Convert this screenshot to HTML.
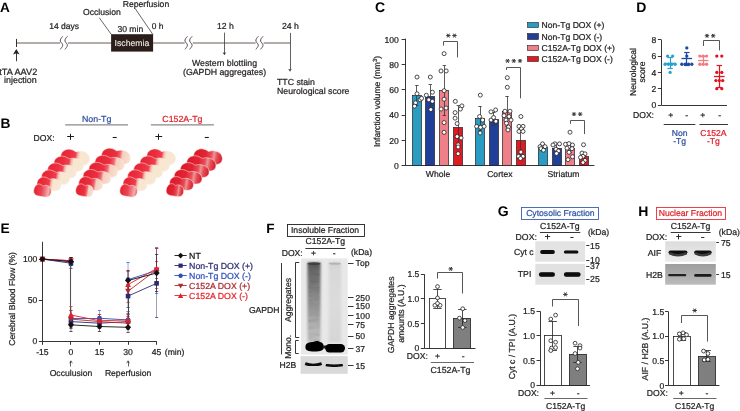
<!DOCTYPE html>
<html><head><meta charset="utf-8"><style>
html,body{margin:0;padding:0;background:#fff;overflow:hidden;}
svg{display:block;will-change:transform;text-rendering:geometricPrecision;font-family:"Liberation Sans",sans-serif;font-size:8.6px;fill:#231f20;}
</style></head><body>
<svg width="740" height="411" viewBox="0 0 740 411">
<rect width="740" height="411" fill="#fff"/>
<text x="0.1" y="11.6" font-size="13.6" fill="#000" font-weight="bold">A</text>
<line x1="16.6" y1="43.0" x2="290.4" y2="43.0" stroke="#9a918d" stroke-width="1.5"/>
<line x1="16.5" y1="38.9" x2="16.5" y2="47.0" stroke="#3a3030" stroke-width="1.0"/>
<line x1="16.5" y1="61.2" x2="16.5" y2="52.5" stroke="#2a2020" stroke-width="0.9"/>
<path d="M16.3,48.9 L19.6,54.6 L16.3,53.3 L13.0,54.6 Z" stroke="none" stroke-width="0.8" fill="#2a2020"/>
<rect x="60.0" y="41.8" width="8" height="2.4" fill="#fff"/>
<path d="M62.8,36.3 C61.4,37.8 59.9,39.4 60.3,41.1 C60.7,42.7 62.9,43.6 62.7,45.4 C62.5,47.0 61.0,48.1 60.3,49.4" stroke="#3a3230" stroke-width="0.85" fill="none"/>
<path d="M67.5,36.3 C66.10000000000001,37.8 64.60000000000001,39.4 65.0,41.1 C65.4,42.7 67.60000000000001,43.6 67.4,45.4 C67.2,47.0 65.7,48.1 65.0,49.4" stroke="#3a3230" stroke-width="0.85" fill="none"/>
<rect x="184.7" y="41.8" width="8" height="2.4" fill="#fff"/>
<path d="M187.5,36.3 C186.1,37.8 184.6,39.4 185.0,41.1 C185.39999999999998,42.7 187.6,43.6 187.39999999999998,45.4 C187.2,47.0 185.7,48.1 185.0,49.4" stroke="#3a3230" stroke-width="0.85" fill="none"/>
<path d="M192.2,36.3 C190.79999999999998,37.8 189.29999999999998,39.4 189.7,41.1 C190.09999999999997,42.7 192.29999999999998,43.6 192.09999999999997,45.4 C191.89999999999998,47.0 190.39999999999998,48.1 189.7,49.4" stroke="#3a3230" stroke-width="0.85" fill="none"/>
<rect x="255.60000000000002" y="41.8" width="8" height="2.4" fill="#fff"/>
<path d="M258.40000000000003,36.3 C257.0,37.8 255.50000000000003,39.4 255.90000000000003,41.1 C256.3,42.7 258.5,43.6 258.3,45.4 C258.1,47.0 256.6,48.1 255.90000000000003,49.4" stroke="#3a3230" stroke-width="0.85" fill="none"/>
<path d="M263.1,36.3 C261.7,37.8 260.2,39.4 260.6,41.1 C261.0,42.7 263.2,43.6 263.0,45.4 C262.8,47.0 261.3,48.1 260.6,49.4" stroke="#3a3230" stroke-width="0.85" fill="none"/>
<text x="49.2" y="29.0" font-size="8.5" stroke="#231f20" stroke-width="0.22">14 days</text>
<rect x="111.1" y="34.2" width="42.0" height="17.4" fill="#2b1e1a"/>
<text x="132.0" y="45.6" font-size="8.7" text-anchor="middle" fill="#ece8e4" stroke="#ece8e4" stroke-width="0.12">Ischemia</text>
<text x="130.3" y="32.1" text-anchor="middle" stroke="#231f20" stroke-width="0.22">30 min</text>
<text x="151.8" y="28.5" font-size="8.4" stroke="#231f20" stroke-width="0.22">0 h</text>
<text x="83" y="15.2" font-size="8.65" stroke="#231f20" stroke-width="0.22">Occlusion</text>
<text x="122.7" y="6.6" font-size="8.65" stroke="#231f20" stroke-width="0.22">Reperfusion</text>
<line x1="99.3" y1="17.8" x2="111.4" y2="34.5" stroke="#3a3030" stroke-width="0.75"/>
<line x1="135.2" y1="8.6" x2="152.9" y2="34.5" stroke="#3a3030" stroke-width="0.75"/>
<text x="216.9" y="28.7" font-size="8.7" stroke="#231f20" stroke-width="0.22">12 h</text>
<line x1="224.5" y1="32.6" x2="224.5" y2="53" stroke="#4a4444" stroke-width="0.85"/>
<path d="M222.6,52.2 L224.4,55.2 L226.2,52.2 L224.4,52.9 Z" stroke="none" stroke-width="0.8" fill="#3a3434"/>
<text x="282.0" y="28.7" font-size="8.7" stroke="#231f20" stroke-width="0.22">24 h</text>
<line x1="290.5" y1="32.9" x2="290.5" y2="69.5" stroke="#4a4444" stroke-width="0.85"/>
<path d="M288.2,68.7 L290,71.8 L291.8,68.7 L290,69.4 Z" stroke="none" stroke-width="0.8" fill="#3a3434"/>
<text x="192" y="66.1" font-size="8.75" stroke="#231f20" stroke-width="0.22">Western blottiing</text>
<text x="183" y="75.1" font-size="8.75" stroke="#231f20" stroke-width="0.22">(GAPDH aggregates)</text>
<text x="277" y="85.2" font-size="8.75" stroke="#231f20" stroke-width="0.22">TTC stain</text>
<text x="277" y="94.2" font-size="8.75" stroke="#231f20" stroke-width="0.22">Neurological score</text>
<text x="-0.7" y="74.6" font-size="9.2" stroke="#231f20" stroke-width="0.22">tTA AAV2</text>
<text x="4.1" y="82.8" font-size="8.9" stroke="#231f20" stroke-width="0.22">injection</text>
<text x="0.6" y="127.8" font-size="13.8" fill="#000" font-weight="bold">B</text>
<text x="96.7" y="122.1" font-size="8.8" text-anchor="middle" fill="#2e4fa3" stroke="#2e4fa3" stroke-width="0.22">Non-Tg</text>
<line x1="65.2" y1="124.9" x2="128" y2="124.9" stroke="#8a8a8a" stroke-width="1.4"/>
<text x="182.4" y="122.1" font-size="8.8" text-anchor="middle" fill="#e0202a" stroke="#e0202a" stroke-width="0.22">C152A-Tg</text>
<line x1="150.9" y1="124.9" x2="213.9" y2="124.9" stroke="#8a8a8a" stroke-width="1.4"/>
<text x="33.6" y="140.9" stroke="#231f20" stroke-width="0.22">DOX:</text>
<line x1="67.14999999999999" y1="136.5" x2="73.95" y2="136.5" stroke="#1a1a1a" stroke-width="1.05"/>
<line x1="70.5" y1="133.8" x2="70.5" y2="139.8" stroke="#1a1a1a" stroke-width="1.05"/>
<line x1="112.7" y1="137.5" x2="116.7" y2="137.5" stroke="#1a1a1a" stroke-width="1.1"/>
<line x1="155.4" y1="136.5" x2="162.20000000000002" y2="136.5" stroke="#1a1a1a" stroke-width="1.05"/>
<line x1="158.5" y1="133.8" x2="158.5" y2="139.8" stroke="#1a1a1a" stroke-width="1.05"/>
<line x1="204.8" y1="137.5" x2="208.8" y2="137.5" stroke="#1a1a1a" stroke-width="1.1"/>
<defs>
<linearGradient id="gPale" x1="0" y1="0" x2="1" y2="0">
 <stop offset="0" stop-color="#e62434"/><stop offset="0.3" stop-color="#ea2e3e"/><stop offset="0.5" stop-color="#ee3e4c"/><stop offset="0.58" stop-color="#f4b8ac"/><stop offset="0.66" stop-color="#f8e6d0"/><stop offset="1" stop-color="#f6e8d2"/>
</linearGradient>
<linearGradient id="gPale0" x1="0" y1="0" x2="1" y2="0">
 <stop offset="0" stop-color="#e42230"/><stop offset="0.45" stop-color="#ea4452"/><stop offset="0.65" stop-color="#f07880"/><stop offset="0.85" stop-color="#f4b0b0"/><stop offset="1" stop-color="#e84850"/>
</linearGradient>
<linearGradient id="gMid" x1="0" y1="0" x2="1" y2="0">
 <stop offset="0" stop-color="#e4222f"/><stop offset="0.5" stop-color="#ea3040"/><stop offset="0.63" stop-color="#ef6470"/><stop offset="0.72" stop-color="#f6cfc0"/><stop offset="1" stop-color="#f8e2ce"/>
</linearGradient>
<linearGradient id="gRed" x1="0" y1="0" x2="1" y2="0">
 <stop offset="0" stop-color="#da1a2a"/><stop offset="0.4" stop-color="#e22432"/><stop offset="0.6" stop-color="#e64c58"/><stop offset="0.7" stop-color="#ee9494"/><stop offset="0.8" stop-color="#e65058"/><stop offset="1" stop-color="#d41a2a"/>
</linearGradient>
<radialGradient id="gHi" cx="0.5" cy="0.5" r="0.5"><stop offset="0" stop-color="#ff8890" stop-opacity="0.75"/><stop offset="1" stop-color="#ff8890" stop-opacity="0"/></radialGradient>
<filter id="bsoft" x="-20%" y="-20%" width="140%" height="140%"><feGaussianBlur stdDeviation="0.4"/></filter>
</defs>
<g filter="url(#bsoft)">
<g transform="rotate(9 75.20 157.20)">
<path d="M60.7,157.89999999999998 C60.7,153.0 65.05,150.2 68.82000000000001,150.2 C72.3,150.2 73.75,151.6 75.2,151.88 C76.65,150.89999999999998 78.68,150.2 82.16,150.48 C87.38000000000001,150.89999999999998 89.7,154.39999999999998 89.7,157.89999999999998 C89.7,162.51999999999998 85.35000000000001,164.2 79.55,164.2 L70.85000000000001,164.2 C64.18,164.2 60.7,162.1 60.7,157.89999999999998 Z" fill="url(#gPale)" stroke="#fde8e8" stroke-width="0.6" stroke-opacity="0.85"/>
</g>
<g transform="rotate(9 68.66 163.88)">
<path d="M53.91,164.54999999999998 C53.91,159.86 58.334999999999994,157.18 62.169999999999995,157.18 C65.71,157.18 67.185,158.52 68.66,158.788 C70.13499999999999,157.85 72.2,157.18 75.74,157.448 C81.05,157.85 83.41,161.20000000000002 83.41,164.54999999999998 C83.41,168.97199999999998 78.985,170.57999999999998 73.085,170.57999999999998 L64.235,170.57999999999998 C57.449999999999996,170.57999999999998 53.91,168.57 53.91,164.54999999999998 Z" fill="url(#gPale)" stroke="#fde8e8" stroke-width="0.6" stroke-opacity="0.85"/>
</g>
<g transform="rotate(9 62.12 170.56)">
<path d="M47.620000000000005,171.21 C47.620000000000005,166.66 51.970000000000006,164.06 55.74,164.06 C59.220000000000006,164.06 60.67,165.36 62.120000000000005,165.62 C63.57000000000001,164.71 65.60000000000001,164.06 69.08,164.32 C74.30000000000001,164.71 76.62,167.96 76.62,171.21 C76.62,175.5 72.27000000000001,177.06 66.47,177.06 L57.77,177.06 C51.1,177.06 47.620000000000005,175.11 47.620000000000005,171.21 Z" fill="url(#gPale)" stroke="#fde8e8" stroke-width="0.6" stroke-opacity="0.85"/>
</g>
<g transform="rotate(9 55.58 177.24)">
<path d="M41.58,177.86999999999998 C41.58,173.45999999999998 45.78,170.93999999999997 49.42,170.93999999999997 C52.78,170.93999999999997 54.18,172.19999999999996 55.58,172.45199999999997 C56.98,171.56999999999996 58.94,170.93999999999997 62.3,171.19199999999998 C67.34,171.56999999999996 69.58,174.71999999999997 69.58,177.86999999999998 C69.58,182.028 65.38,183.54 59.78,183.54 L51.379999999999995,183.54 C44.94,183.54 41.58,181.65 41.58,177.86999999999998 Z" fill="url(#gPale)" stroke="#fde8e8" stroke-width="0.6" stroke-opacity="0.85"/>
</g>
<g transform="rotate(9 49.04 183.92)">
<path d="M37.04,184.53 C37.04,180.26 40.64,177.82 43.76,177.82 C46.64,177.82 47.839999999999996,179.04 49.04,179.284 C50.24,178.43 51.92,177.82 54.8,178.064 C59.12,178.43 61.04,181.48 61.04,184.53 C61.04,188.55599999999998 57.44,190.01999999999998 52.64,190.01999999999998 L45.44,190.01999999999998 C39.92,190.01999999999998 37.04,188.18999999999997 37.04,184.53 Z" fill="url(#gPale)" stroke="#fde8e8" stroke-width="0.6" stroke-opacity="0.85"/>
</g>
<g transform="rotate(9 42.50 190.60)">
<path d="M33.75,191.2 C33.75,187.0 36.375,184.6 38.65,184.6 C40.75,184.6 41.625,185.79999999999998 42.5,186.04 C43.375,185.2 44.6,184.6 46.7,184.84 C49.85,185.2 51.25,188.2 51.25,191.2 C51.25,195.16 48.625,196.6 45.125,196.6 L39.875,196.6 C35.85,196.6 33.75,194.79999999999998 33.75,191.2 Z" fill="url(#gPale0)" stroke="#fde8e8" stroke-width="0.6" stroke-opacity="0.85"/>
</g>
</g>
<g filter="url(#bsoft)">
<g transform="rotate(9 116.00 156.20)">
<path d="M101.5,156.89999999999998 C101.5,152.0 105.85,149.2 109.62,149.2 C113.1,149.2 114.55,150.6 116.0,150.88 C117.45,149.89999999999998 119.48,149.2 122.96,149.48 C128.18,149.89999999999998 130.5,153.39999999999998 130.5,156.89999999999998 C130.5,161.51999999999998 126.15,163.2 120.35,163.2 L111.65,163.2 C104.98,163.2 101.5,161.1 101.5,156.89999999999998 Z" fill="url(#gMid)" stroke="#fde8e8" stroke-width="0.6" stroke-opacity="0.85"/>
</g>
<g transform="rotate(9 109.70 163.04)">
<path d="M94.95,163.70999999999998 C94.95,159.02 99.375,156.34 103.21000000000001,156.34 C106.75,156.34 108.22500000000001,157.68 109.7,157.948 C111.175,157.01 113.24000000000001,156.34 116.78,156.608 C122.09,157.01 124.45,160.36 124.45,163.70999999999998 C124.45,168.13199999999998 120.025,169.73999999999998 114.125,169.73999999999998 L105.275,169.73999999999998 C98.49000000000001,169.73999999999998 94.95,167.73 94.95,163.70999999999998 Z" fill="url(#gMid)" stroke="#fde8e8" stroke-width="0.6" stroke-opacity="0.85"/>
</g>
<g transform="rotate(9 103.40 169.88)">
<path d="M88.9,170.53 C88.9,165.98 93.25,163.38 97.02000000000001,163.38 C100.5,163.38 101.95,164.68 103.4,164.94 C104.85000000000001,164.03 106.88000000000001,163.38 110.36,163.64 C115.58000000000001,164.03 117.9,167.28 117.9,170.53 C117.9,174.82 113.55000000000001,176.38 107.75,176.38 L99.05000000000001,176.38 C92.38000000000001,176.38 88.9,174.43 88.9,170.53 Z" fill="url(#gMid)" stroke="#fde8e8" stroke-width="0.6" stroke-opacity="0.85"/>
</g>
<g transform="rotate(9 97.10 176.72)">
<path d="M83.1,177.35 C83.1,172.94 87.3,170.42 90.94,170.42 C94.3,170.42 95.69999999999999,171.67999999999998 97.1,171.932 C98.5,171.04999999999998 100.46,170.42 103.82,170.672 C108.86,171.04999999999998 111.1,174.2 111.1,177.35 C111.1,181.508 106.89999999999999,183.02 101.3,183.02 L92.89999999999999,183.02 C86.46,183.02 83.1,181.13000000000002 83.1,177.35 Z" fill="url(#gMid)" stroke="#fde8e8" stroke-width="0.6" stroke-opacity="0.85"/>
</g>
<g transform="rotate(9 90.80 183.56)">
<path d="M78.8,184.17000000000002 C78.8,179.9 82.39999999999999,177.46 85.52,177.46 C88.39999999999999,177.46 89.6,178.68 90.8,178.924 C92.0,178.07000000000002 93.67999999999999,177.46 96.56,177.704 C100.88,178.07000000000002 102.8,181.12 102.8,184.17000000000002 C102.8,188.196 99.2,189.66 94.39999999999999,189.66 L87.2,189.66 C81.67999999999999,189.66 78.8,187.82999999999998 78.8,184.17000000000002 Z" fill="url(#gMid)" stroke="#fde8e8" stroke-width="0.6" stroke-opacity="0.85"/>
</g>
<g transform="rotate(9 84.50 190.40)">
<path d="M75.75,191.0 C75.75,186.8 78.375,184.4 80.65,184.4 C82.75,184.4 83.625,185.6 84.5,185.84 C85.375,185.0 86.6,184.4 88.7,184.64000000000001 C91.85,185.0 93.25,188.0 93.25,191.0 C93.25,194.96 90.625,196.4 87.125,196.4 L81.875,196.4 C77.85,196.4 75.75,194.6 75.75,191.0 Z" fill="url(#gMid)" stroke="#fde8e8" stroke-width="0.6" stroke-opacity="0.85"/>
</g>
</g>
<g filter="url(#bsoft)">
<g transform="rotate(9 161.20 157.00)">
<path d="M146.7,157.7 C146.7,152.8 151.04999999999998,150.0 154.82,150.0 C158.29999999999998,150.0 159.75,151.4 161.2,151.68 C162.64999999999998,150.7 164.67999999999998,150.0 168.16,150.28 C173.38,150.7 175.7,154.2 175.7,157.7 C175.7,162.32 171.35,164.0 165.54999999999998,164.0 L156.85,164.0 C150.17999999999998,164.0 146.7,161.9 146.7,157.7 Z" fill="url(#gPale)" stroke="#fde8e8" stroke-width="0.6" stroke-opacity="0.85"/>
</g>
<g transform="rotate(9 154.68 163.72)">
<path d="M139.93,164.39 C139.93,159.70000000000002 144.35500000000002,157.02 148.19,157.02 C151.73000000000002,157.02 153.205,158.36 154.68,158.62800000000001 C156.155,157.69 158.22,157.02 161.76000000000002,157.288 C167.07,157.69 169.43,161.04000000000002 169.43,164.39 C169.43,168.81199999999998 165.005,170.42 159.10500000000002,170.42 L150.255,170.42 C143.47,170.42 139.93,168.41 139.93,164.39 Z" fill="url(#gPale)" stroke="#fde8e8" stroke-width="0.6" stroke-opacity="0.85"/>
</g>
<g transform="rotate(9 148.16 170.44)">
<path d="M133.66,171.09 C133.66,166.54 138.01,163.94 141.78,163.94 C145.26,163.94 146.71,165.24 148.16,165.5 C149.60999999999999,164.59 151.64,163.94 155.12,164.2 C160.34,164.59 162.66,167.84 162.66,171.09 C162.66,175.38 158.31,176.94 152.51,176.94 L143.81,176.94 C137.14,176.94 133.66,174.99 133.66,171.09 Z" fill="url(#gPale)" stroke="#fde8e8" stroke-width="0.6" stroke-opacity="0.85"/>
</g>
<g transform="rotate(9 141.64 177.16)">
<path d="M127.63999999999999,177.79 C127.63999999999999,173.38 131.83999999999997,170.85999999999999 135.48,170.85999999999999 C138.83999999999997,170.85999999999999 140.23999999999998,172.11999999999998 141.64,172.37199999999999 C143.04,171.48999999999998 145.0,170.85999999999999 148.35999999999999,171.112 C153.39999999999998,171.48999999999998 155.64,174.64 155.64,177.79 C155.64,181.948 151.44,183.46 145.83999999999997,183.46 L137.44,183.46 C131.0,183.46 127.63999999999999,181.57000000000002 127.63999999999999,177.79 Z" fill="url(#gPale)" stroke="#fde8e8" stroke-width="0.6" stroke-opacity="0.85"/>
</g>
<g transform="rotate(9 135.12 183.88)">
<path d="M123.12,184.49 C123.12,180.22 126.72,177.78 129.84,177.78 C132.72,177.78 133.92000000000002,179.0 135.12,179.244 C136.32,178.39000000000001 138.0,177.78 140.88,178.024 C145.20000000000002,178.39000000000001 147.12,181.44 147.12,184.49 C147.12,188.516 143.52,189.98 138.72,189.98 L131.52,189.98 C126.0,189.98 123.12,188.14999999999998 123.12,184.49 Z" fill="url(#gPale)" stroke="#fde8e8" stroke-width="0.6" stroke-opacity="0.85"/>
</g>
<g transform="rotate(9 128.60 190.60)">
<path d="M119.85,191.2 C119.85,187.0 122.475,184.6 124.75,184.6 C126.85,184.6 127.725,185.79999999999998 128.6,186.04 C129.475,185.2 130.7,184.6 132.79999999999998,184.84 C135.95,185.2 137.35,188.2 137.35,191.2 C137.35,195.16 134.725,196.6 131.225,196.6 L125.975,196.6 C121.94999999999999,196.6 119.85,194.79999999999998 119.85,191.2 Z" fill="url(#gPale0)" stroke="#fde8e8" stroke-width="0.6" stroke-opacity="0.85"/>
</g>
</g>
<g filter="url(#bsoft)">
<g transform="rotate(9 208.00 156.80)">
<path d="M193.5,157.5 C193.5,152.60000000000002 197.85,149.8 201.62,149.8 C205.1,149.8 206.55,151.20000000000002 208.0,151.48000000000002 C209.45,150.5 211.48,149.8 214.96,150.08 C220.18,150.5 222.5,154.0 222.5,157.5 C222.5,162.12 218.15,163.8 212.35,163.8 L203.65,163.8 C196.98,163.8 193.5,161.70000000000002 193.5,157.5 Z" fill="url(#gRed)" stroke="#fde8e8" stroke-width="0.6" stroke-opacity="0.85"/>
</g>
<g transform="rotate(9 201.40 163.48)">
<path d="M186.65,164.15 C186.65,159.46000000000004 191.07500000000002,156.78000000000003 194.91,156.78000000000003 C198.45000000000002,156.78000000000003 199.925,158.12000000000003 201.4,158.38800000000003 C202.875,157.45000000000002 204.94,156.78000000000003 208.48000000000002,157.04800000000003 C213.79,157.45000000000002 216.15,160.80000000000004 216.15,164.15 C216.15,168.572 211.725,170.18 205.82500000000002,170.18 L196.975,170.18 C190.19,170.18 186.65,168.17000000000002 186.65,164.15 Z" fill="url(#gRed)" stroke="#fde8e8" stroke-width="0.6" stroke-opacity="0.85"/>
</g>
<g transform="rotate(9 194.80 170.16)">
<path d="M180.3,170.81 C180.3,166.26 184.65,163.66 188.42000000000002,163.66 C191.9,163.66 193.35000000000002,164.96 194.8,165.22 C196.25,164.31 198.28,163.66 201.76000000000002,163.92 C206.98000000000002,164.31 209.3,167.56 209.3,170.81 C209.3,175.1 204.95000000000002,176.66 199.15,176.66 L190.45000000000002,176.66 C183.78,176.66 180.3,174.71 180.3,170.81 Z" fill="url(#gRed)" stroke="#fde8e8" stroke-width="0.6" stroke-opacity="0.85"/>
</g>
<g transform="rotate(9 188.20 176.84)">
<path d="M174.2,177.47 C174.2,173.06 178.39999999999998,170.54 182.04,170.54 C185.39999999999998,170.54 186.79999999999998,171.79999999999998 188.2,172.052 C189.6,171.17 191.56,170.54 194.92,170.792 C199.95999999999998,171.17 202.2,174.32 202.2,177.47 C202.2,181.62800000000001 198.0,183.14000000000001 192.39999999999998,183.14000000000001 L184.0,183.14000000000001 C177.56,183.14000000000001 174.2,181.25000000000003 174.2,177.47 Z" fill="url(#gRed)" stroke="#fde8e8" stroke-width="0.6" stroke-opacity="0.85"/>
</g>
<g transform="rotate(9 181.60 183.52)">
<path d="M169.6,184.13 C169.6,179.85999999999999 173.2,177.42 176.32,177.42 C179.2,177.42 180.4,178.64 181.6,178.884 C182.79999999999998,178.03 184.48,177.42 187.35999999999999,177.664 C191.68,178.03 193.6,181.07999999999998 193.6,184.13 C193.6,188.15599999999998 190.0,189.61999999999998 185.2,189.61999999999998 L178.0,189.61999999999998 C172.48,189.61999999999998 169.6,187.78999999999996 169.6,184.13 Z" fill="url(#gRed)" stroke="#fde8e8" stroke-width="0.6" stroke-opacity="0.85"/>
</g>
<g transform="rotate(9 175.00 190.20)">
<path d="M166.25,190.79999999999998 C166.25,186.6 168.875,184.2 171.15,184.2 C173.25,184.2 174.125,185.39999999999998 175.0,185.64 C175.875,184.79999999999998 177.1,184.2 179.2,184.44 C182.35,184.79999999999998 183.75,187.79999999999998 183.75,190.79999999999998 C183.75,194.76 181.125,196.2 177.625,196.2 L172.375,196.2 C168.35,196.2 166.25,194.39999999999998 166.25,190.79999999999998 Z" fill="url(#gRed)" stroke="#fde8e8" stroke-width="0.6" stroke-opacity="0.85"/>
</g>
</g>
<text x="375.0" y="11.8" font-size="14" fill="#000" font-weight="bold">C</text>
<line x1="405.5" y1="38.60000000000001" x2="405.5" y2="165.6" stroke="#231f20" stroke-width="0.9"/>
<line x1="405.2" y1="165.5" x2="594.4" y2="165.5" stroke="#231f20" stroke-width="0.9"/>
<line x1="401.59999999999997" y1="165.5" x2="405.2" y2="165.5" stroke="#231f20" stroke-width="0.9"/>
<text x="398.9" y="169.0" text-anchor="end" stroke="#231f20" stroke-width="0.22">0</text>
<line x1="401.59999999999997" y1="140.5" x2="405.2" y2="140.5" stroke="#231f20" stroke-width="0.9"/>
<text x="398.9" y="143.70000000000002" text-anchor="end" stroke="#231f20" stroke-width="0.22">20</text>
<line x1="401.59999999999997" y1="115.5" x2="405.2" y2="115.5" stroke="#231f20" stroke-width="0.9"/>
<text x="398.9" y="118.4" text-anchor="end" stroke="#231f20" stroke-width="0.22">40</text>
<line x1="401.59999999999997" y1="89.5" x2="405.2" y2="89.5" stroke="#231f20" stroke-width="0.9"/>
<text x="398.9" y="93.10000000000001" text-anchor="end" stroke="#231f20" stroke-width="0.22">60</text>
<line x1="401.59999999999997" y1="64.5" x2="405.2" y2="64.5" stroke="#231f20" stroke-width="0.9"/>
<text x="398.9" y="67.80000000000001" text-anchor="end" stroke="#231f20" stroke-width="0.22">80</text>
<line x1="401.59999999999997" y1="39.5" x2="405.2" y2="39.5" stroke="#231f20" stroke-width="0.9"/>
<text x="398.9" y="42.50000000000001" text-anchor="end" stroke="#231f20" stroke-width="0.22">100</text>
<text x="0" y="0" text-anchor="middle" stroke="#231f20" stroke-width="0.22" transform="translate(380.2,101.5) rotate(-90)">Infarction volume (mm<tspan dy="-3" font-size="6">3</tspan><tspan dy="3">)</tspan></text>
<rect x="412.5" y="95.5" width="9.0" height="70.0" fill="#2a9cc4" stroke="#231f20" stroke-width="0.7"/>
<line x1="416.5" y1="85.5255" x2="416.5" y2="105.0065" stroke="#333" stroke-width="0.8"/>
<line x1="415.20000000000005" y1="85.5" x2="418.6" y2="85.5" stroke="#333" stroke-width="0.8"/>
<line x1="415.20000000000005" y1="105.5" x2="418.6" y2="105.5" stroke="#333" stroke-width="0.8"/>
<circle cx="417.00000000000006" cy="77.05" r="2.0" fill="#fff" stroke="#231f20" stroke-width="0.8"/>
<circle cx="417.00000000000006" cy="93.748" r="2.0" fill="#fff" stroke="#231f20" stroke-width="0.8"/>
<circle cx="415.50000000000006" cy="102.856" r="2.0" fill="#fff" stroke="#231f20" stroke-width="0.8"/>
<circle cx="420.1" cy="99.82" r="2.0" fill="#fff" stroke="#231f20" stroke-width="0.8"/>
<circle cx="421.6" cy="98.30199999999999" r="2.0" fill="#fff" stroke="#231f20" stroke-width="0.8"/>
<circle cx="414.6" cy="106.145" r="2.0" fill="#fff" stroke="#231f20" stroke-width="0.8"/>
<rect x="425.5" y="96.5" width="9.0" height="69.0" fill="#1f3f98" stroke="#231f20" stroke-width="0.7"/>
<line x1="430.5" y1="84.64" x2="430.5" y2="107.66300000000001" stroke="#333" stroke-width="0.8"/>
<line x1="428.6" y1="84.5" x2="432.0" y2="84.5" stroke="#333" stroke-width="0.8"/>
<line x1="428.6" y1="107.5" x2="432.0" y2="107.5" stroke="#333" stroke-width="0.8"/>
<circle cx="430.3" cy="77.05" r="2.0" fill="#fff" stroke="#231f20" stroke-width="0.8"/>
<circle cx="432.40000000000003" cy="92.23" r="2.0" fill="#fff" stroke="#231f20" stroke-width="0.8"/>
<circle cx="426.3" cy="95.26599999999999" r="2.0" fill="#fff" stroke="#231f20" stroke-width="0.8"/>
<circle cx="428.8" cy="99.82" r="2.0" fill="#fff" stroke="#231f20" stroke-width="0.8"/>
<circle cx="432.40000000000003" cy="101.33800000000001" r="2.0" fill="#fff" stroke="#231f20" stroke-width="0.8"/>
<circle cx="430.8" cy="109.5605" r="2.0" fill="#fff" stroke="#231f20" stroke-width="0.8"/>
<rect x="439.5" y="90.5" width="9.0" height="75.0" fill="#f08088" stroke="#231f20" stroke-width="0.7"/>
<line x1="444.5" y1="65.665" x2="444.5" y2="115.75899999999999" stroke="#333" stroke-width="0.8"/>
<line x1="442.6" y1="65.5" x2="446.0" y2="65.5" stroke="#333" stroke-width="0.8"/>
<line x1="442.6" y1="115.5" x2="446.0" y2="115.5" stroke="#333" stroke-width="0.8"/>
<circle cx="444.1" cy="53.64750000000001" r="2.0" fill="#fff" stroke="#231f20" stroke-width="0.8"/>
<circle cx="441.0" cy="70.97800000000001" r="2.0" fill="#fff" stroke="#231f20" stroke-width="0.8"/>
<circle cx="446.2" cy="70.97800000000001" r="2.0" fill="#fff" stroke="#231f20" stroke-width="0.8"/>
<circle cx="444.1" cy="90.712" r="2.0" fill="#fff" stroke="#231f20" stroke-width="0.8"/>
<circle cx="444.1" cy="99.1875" r="2.0" fill="#fff" stroke="#231f20" stroke-width="0.8"/>
<circle cx="441.1" cy="109.05449999999999" r="2.0" fill="#fff" stroke="#231f20" stroke-width="0.8"/>
<circle cx="446.1" cy="108.04249999999999" r="2.0" fill="#fff" stroke="#231f20" stroke-width="0.8"/>
<circle cx="444.1" cy="122.59" r="2.0" fill="#fff" stroke="#231f20" stroke-width="0.8"/>
<circle cx="444.1" cy="132.3305" r="2.0" fill="#fff" stroke="#231f20" stroke-width="0.8"/>
<rect x="453.5" y="127.5" width="9.0" height="38.0" fill="#e01a22" stroke="#231f20" stroke-width="0.7"/>
<line x1="458.5" y1="105.892" x2="458.5" y2="148.649" stroke="#333" stroke-width="0.8"/>
<line x1="456.6" y1="105.5" x2="460.0" y2="105.5" stroke="#333" stroke-width="0.8"/>
<line x1="456.6" y1="148.5" x2="460.0" y2="148.5" stroke="#333" stroke-width="0.8"/>
<circle cx="455.3" cy="101.33800000000001" r="2.0" fill="#fff" stroke="#231f20" stroke-width="0.8"/>
<circle cx="461.90000000000003" cy="105.892" r="2.0" fill="#fff" stroke="#231f20" stroke-width="0.8"/>
<circle cx="460.40000000000003" cy="109.05449999999999" r="2.0" fill="#fff" stroke="#231f20" stroke-width="0.8"/>
<circle cx="455.1" cy="112.59649999999999" r="2.0" fill="#fff" stroke="#231f20" stroke-width="0.8"/>
<circle cx="455.1" cy="118.1625" r="2.0" fill="#fff" stroke="#231f20" stroke-width="0.8"/>
<circle cx="457.1" cy="123.602" r="2.0" fill="#fff" stroke="#231f20" stroke-width="0.8"/>
<circle cx="457.1" cy="136.505" r="2.0" fill="#fff" stroke="#231f20" stroke-width="0.8"/>
<circle cx="461.1" cy="137.8965" r="2.0" fill="#fff" stroke="#231f20" stroke-width="0.8"/>
<circle cx="458.1" cy="144.85399999999998" r="2.0" fill="#fff" stroke="#231f20" stroke-width="0.8"/>
<circle cx="458.1" cy="147.0045" r="2.0" fill="#fff" stroke="#231f20" stroke-width="0.8"/>
<circle cx="458.1" cy="153.709" r="2.0" fill="#fff" stroke="#231f20" stroke-width="0.8"/>
<rect x="475.5" y="118.5" width="9.0" height="47.0" fill="#2a9cc4" stroke="#231f20" stroke-width="0.7"/>
<line x1="480.5" y1="106.145" x2="480.5" y2="130.939" stroke="#333" stroke-width="0.8"/>
<line x1="478.3" y1="106.5" x2="481.7" y2="106.5" stroke="#333" stroke-width="0.8"/>
<line x1="478.3" y1="130.5" x2="481.7" y2="130.5" stroke="#333" stroke-width="0.8"/>
<circle cx="480.3" cy="95.1395" r="2.0" fill="#fff" stroke="#231f20" stroke-width="0.8"/>
<circle cx="479.6" cy="116.518" r="2.0" fill="#fff" stroke="#231f20" stroke-width="0.8"/>
<circle cx="482.6" cy="120.06" r="2.0" fill="#fff" stroke="#231f20" stroke-width="0.8"/>
<circle cx="476.6" cy="126.38499999999999" r="2.0" fill="#fff" stroke="#231f20" stroke-width="0.8"/>
<circle cx="480.6" cy="127.2705" r="2.0" fill="#fff" stroke="#231f20" stroke-width="0.8"/>
<circle cx="484.1" cy="126.38499999999999" r="2.0" fill="#fff" stroke="#231f20" stroke-width="0.8"/>
<circle cx="480.1" cy="132.963" r="2.0" fill="#fff" stroke="#231f20" stroke-width="0.8"/>
<rect x="489.5" y="119.5" width="9.0" height="46.0" fill="#1f3f98" stroke="#231f20" stroke-width="0.7"/>
<line x1="493.5" y1="112.723" x2="493.5" y2="125.37299999999999" stroke="#333" stroke-width="0.8"/>
<line x1="491.90000000000003" y1="112.5" x2="495.3" y2="112.5" stroke="#333" stroke-width="0.8"/>
<line x1="491.90000000000003" y1="125.5" x2="495.3" y2="125.5" stroke="#333" stroke-width="0.8"/>
<circle cx="491.0" cy="111.8375" r="2.0" fill="#fff" stroke="#231f20" stroke-width="0.8"/>
<circle cx="495.6" cy="109.94" r="2.0" fill="#fff" stroke="#231f20" stroke-width="0.8"/>
<circle cx="491.0" cy="120.06" r="2.0" fill="#fff" stroke="#231f20" stroke-width="0.8"/>
<circle cx="495.90000000000003" cy="121.32499999999999" r="2.0" fill="#fff" stroke="#231f20" stroke-width="0.8"/>
<circle cx="493.6" cy="117.53" r="2.0" fill="#fff" stroke="#231f20" stroke-width="0.8"/>
<rect x="502.5" y="111.5" width="9.0" height="54.0" fill="#f08088" stroke="#231f20" stroke-width="0.7"/>
<line x1="507.5" y1="96.025" x2="507.5" y2="126.38499999999999" stroke="#333" stroke-width="0.8"/>
<line x1="505.3" y1="96.5" x2="508.7" y2="96.5" stroke="#333" stroke-width="0.8"/>
<line x1="505.3" y1="126.5" x2="508.7" y2="126.5" stroke="#333" stroke-width="0.8"/>
<circle cx="507.3" cy="77.6825" r="2.0" fill="#fff" stroke="#231f20" stroke-width="0.8"/>
<circle cx="507.3" cy="87.29650000000001" r="2.0" fill="#fff" stroke="#231f20" stroke-width="0.8"/>
<circle cx="505.0" cy="111.205" r="2.0" fill="#fff" stroke="#231f20" stroke-width="0.8"/>
<circle cx="510.0" cy="111.205" r="2.0" fill="#fff" stroke="#231f20" stroke-width="0.8"/>
<circle cx="504.0" cy="115.6325" r="2.0" fill="#fff" stroke="#231f20" stroke-width="0.8"/>
<circle cx="509.0" cy="116.518" r="2.0" fill="#fff" stroke="#231f20" stroke-width="0.8"/>
<circle cx="506.0" cy="120.06" r="2.0" fill="#fff" stroke="#231f20" stroke-width="0.8"/>
<circle cx="511.0" cy="120.06" r="2.0" fill="#fff" stroke="#231f20" stroke-width="0.8"/>
<circle cx="506.5" cy="123.2225" r="2.0" fill="#fff" stroke="#231f20" stroke-width="0.8"/>
<circle cx="508.5" cy="127.0175" r="2.0" fill="#fff" stroke="#231f20" stroke-width="0.8"/>
<circle cx="508.0" cy="129.927" r="2.0" fill="#fff" stroke="#231f20" stroke-width="0.8"/>
<rect x="516.5" y="140.5" width="9.0" height="25.0" fill="#e01a22" stroke="#231f20" stroke-width="0.7"/>
<line x1="520.5" y1="126.38499999999999" x2="520.5" y2="154.215" stroke="#333" stroke-width="0.8"/>
<line x1="518.9" y1="126.5" x2="522.3000000000001" y2="126.5" stroke="#333" stroke-width="0.8"/>
<line x1="518.9" y1="154.5" x2="522.3000000000001" y2="154.5" stroke="#333" stroke-width="0.8"/>
<circle cx="520.9" cy="116.518" r="2.0" fill="#fff" stroke="#231f20" stroke-width="0.8"/>
<circle cx="519.0" cy="126.38499999999999" r="2.0" fill="#fff" stroke="#231f20" stroke-width="0.8"/>
<circle cx="523.0" cy="126.38499999999999" r="2.0" fill="#fff" stroke="#231f20" stroke-width="0.8"/>
<circle cx="521.4" cy="128.915" r="2.0" fill="#fff" stroke="#231f20" stroke-width="0.8"/>
<circle cx="519.0" cy="131.445" r="2.0" fill="#fff" stroke="#231f20" stroke-width="0.8"/>
<circle cx="523.0" cy="131.445" r="2.0" fill="#fff" stroke="#231f20" stroke-width="0.8"/>
<circle cx="520.9" cy="152.0645" r="2.0" fill="#fff" stroke="#231f20" stroke-width="0.8"/>
<circle cx="518.5" cy="156.3655" r="2.0" fill="#fff" stroke="#231f20" stroke-width="0.8"/>
<circle cx="523.0" cy="156.3655" r="2.0" fill="#fff" stroke="#231f20" stroke-width="0.8"/>
<circle cx="520.5" cy="158.516" r="2.0" fill="#fff" stroke="#231f20" stroke-width="0.8"/>
<rect x="538.5" y="147.5" width="9.0" height="18.0" fill="#2a9cc4" stroke="#231f20" stroke-width="0.7"/>
<line x1="543.5" y1="143.336" x2="543.5" y2="151.938" stroke="#333" stroke-width="0.8"/>
<line x1="541.3" y1="143.5" x2="544.7" y2="143.5" stroke="#333" stroke-width="0.8"/>
<line x1="541.3" y1="151.5" x2="544.7" y2="151.5" stroke="#333" stroke-width="0.8"/>
<circle cx="542.5" cy="143.84199999999998" r="2.0" fill="#fff" stroke="#231f20" stroke-width="0.8"/>
<circle cx="540.0" cy="146.625" r="2.0" fill="#fff" stroke="#231f20" stroke-width="0.8"/>
<circle cx="545.0" cy="146.625" r="2.0" fill="#fff" stroke="#231f20" stroke-width="0.8"/>
<circle cx="541.0" cy="148.649" r="2.0" fill="#fff" stroke="#231f20" stroke-width="0.8"/>
<circle cx="543.5" cy="150.167" r="2.0" fill="#fff" stroke="#231f20" stroke-width="0.8"/>
<rect x="552.5" y="148.5" width="9.0" height="17.0" fill="#1f3f98" stroke="#231f20" stroke-width="0.7"/>
<line x1="556.5" y1="143.4625" x2="556.5" y2="152.57049999999998" stroke="#333" stroke-width="0.8"/>
<line x1="554.9" y1="143.5" x2="558.3000000000001" y2="143.5" stroke="#333" stroke-width="0.8"/>
<line x1="554.9" y1="152.5" x2="558.3000000000001" y2="152.5" stroke="#333" stroke-width="0.8"/>
<circle cx="555.0" cy="143.84199999999998" r="2.0" fill="#fff" stroke="#231f20" stroke-width="0.8"/>
<circle cx="559.5" cy="143.84199999999998" r="2.0" fill="#fff" stroke="#231f20" stroke-width="0.8"/>
<circle cx="553.0" cy="144.9805" r="2.0" fill="#fff" stroke="#231f20" stroke-width="0.8"/>
<circle cx="556.0" cy="149.155" r="2.0" fill="#fff" stroke="#231f20" stroke-width="0.8"/>
<circle cx="558.5" cy="150.926" r="2.0" fill="#fff" stroke="#231f20" stroke-width="0.8"/>
<circle cx="556.5" cy="153.456" r="2.0" fill="#fff" stroke="#231f20" stroke-width="0.8"/>
<rect x="565.5" y="148.5" width="9.0" height="17.0" fill="#f08088" stroke="#231f20" stroke-width="0.7"/>
<line x1="570.5" y1="143.4625" x2="570.5" y2="152.57049999999998" stroke="#333" stroke-width="0.8"/>
<line x1="568.3" y1="143.5" x2="571.7" y2="143.5" stroke="#333" stroke-width="0.8"/>
<line x1="568.3" y1="152.5" x2="571.7" y2="152.5" stroke="#333" stroke-width="0.8"/>
<circle cx="570.0" cy="132.204" r="2.0" fill="#fff" stroke="#231f20" stroke-width="0.8"/>
<circle cx="565.5" cy="144.2215" r="2.0" fill="#fff" stroke="#231f20" stroke-width="0.8"/>
<circle cx="569.0" cy="143.589" r="2.0" fill="#fff" stroke="#231f20" stroke-width="0.8"/>
<circle cx="572.5" cy="144.9805" r="2.0" fill="#fff" stroke="#231f20" stroke-width="0.8"/>
<circle cx="567.0" cy="148.143" r="2.0" fill="#fff" stroke="#231f20" stroke-width="0.8"/>
<circle cx="572.0" cy="148.649" r="2.0" fill="#fff" stroke="#231f20" stroke-width="0.8"/>
<circle cx="569.0" cy="152.3175" r="2.0" fill="#fff" stroke="#231f20" stroke-width="0.8"/>
<circle cx="572.5" cy="156.745" r="2.0" fill="#fff" stroke="#231f20" stroke-width="0.8"/>
<circle cx="568.0" cy="159.65449999999998" r="2.0" fill="#fff" stroke="#231f20" stroke-width="0.8"/>
<rect x="579.5" y="156.5" width="9.0" height="9.0" fill="#e01a22" stroke="#231f20" stroke-width="0.7"/>
<line x1="584.5" y1="152.95" x2="584.5" y2="161.046" stroke="#333" stroke-width="0.8"/>
<line x1="582.3" y1="152.5" x2="585.7" y2="152.5" stroke="#333" stroke-width="0.8"/>
<line x1="582.3" y1="161.5" x2="585.7" y2="161.5" stroke="#333" stroke-width="0.8"/>
<circle cx="583.5" cy="144.7275" r="2.0" fill="#fff" stroke="#231f20" stroke-width="0.8"/>
<circle cx="582.0" cy="153.07649999999998" r="2.0" fill="#fff" stroke="#231f20" stroke-width="0.8"/>
<circle cx="585.0" cy="153.8355" r="2.0" fill="#fff" stroke="#231f20" stroke-width="0.8"/>
<circle cx="583.0" cy="156.3655" r="2.0" fill="#fff" stroke="#231f20" stroke-width="0.8"/>
<circle cx="580.5" cy="157.3775" r="2.0" fill="#fff" stroke="#231f20" stroke-width="0.8"/>
<circle cx="585.0" cy="160.4135" r="2.0" fill="#fff" stroke="#231f20" stroke-width="0.8"/>
<circle cx="583.0" cy="162.564" r="2.0" fill="#fff" stroke="#231f20" stroke-width="0.8"/>
<text x="438.0" y="176.6" text-anchor="middle" stroke="#231f20" stroke-width="0.22">Whole</text>
<text x="499.8" y="176.6" text-anchor="middle" stroke="#231f20" stroke-width="0.22">Cortex</text>
<text x="563.5" y="176.6" text-anchor="middle" stroke="#231f20" stroke-width="0.22">Striatum</text>
<path d="M443.5,45.6 L443.5,41.5 L457.5,41.5 L457.5,57.4" stroke="#444" stroke-width="0.9" fill="none"/>
<path d="M446.10,35.60 L450.50,35.60 M447.20,33.69 L449.40,37.51 M449.40,33.69 L447.20,37.51 " stroke="#333" stroke-width="1.0" fill="none"/>
<path d="M452.30,35.60 L456.70,35.60 M453.40,33.69 L455.60,37.51 M455.60,33.69 L453.40,37.51 " stroke="#333" stroke-width="1.0" fill="none"/>
<path d="M506.5,70 L506.5,67.5 L520.5,67.5 L520.5,98.3" stroke="#444" stroke-width="0.9" fill="none"/>
<path d="M505.40,60.90 L509.80,60.90 M506.50,58.99 L508.70,62.81 M508.70,58.99 L506.50,62.81 " stroke="#333" stroke-width="1.0" fill="none"/>
<path d="M511.60,60.90 L516.00,60.90 M512.70,58.99 L514.90,62.81 M514.90,58.99 L512.70,62.81 " stroke="#333" stroke-width="1.0" fill="none"/>
<path d="M517.80,60.90 L522.20,60.90 M518.90,58.99 L521.10,62.81 M521.10,58.99 L518.90,62.81 " stroke="#333" stroke-width="1.0" fill="none"/>
<path d="M570.5,123.9 L570.5,120.5 L584.5,120.5 L584.5,134.1" stroke="#444" stroke-width="0.9" fill="none"/>
<path d="M571.80,114.10 L576.20,114.10 M572.90,112.19 L575.10,116.01 M575.10,112.19 L572.90,116.01 " stroke="#333" stroke-width="1.0" fill="none"/>
<path d="M578.00,114.10 L582.40,114.10 M579.10,112.19 L581.30,116.01 M581.30,112.19 L579.10,116.01 " stroke="#333" stroke-width="1.0" fill="none"/>
<rect x="527.5" y="22.5" width="11.0" height="5.0" fill="#2a9cc4" stroke="#231f20" stroke-width="0.6"/>
<text x="541.6" y="28.1" stroke="#231f20" stroke-width="0.22">Non-Tg DOX (+)</text>
<rect x="527.5" y="33.5" width="11.0" height="6.0" fill="#1f3f98" stroke="#231f20" stroke-width="0.6"/>
<text x="541.6" y="39.6" stroke="#231f20" stroke-width="0.22">Non-Tg DOX (-)</text>
<rect x="527.5" y="45.5" width="11.0" height="5.0" fill="#f08088" stroke="#231f20" stroke-width="0.6"/>
<text x="541.6" y="51.1" stroke="#231f20" stroke-width="0.22">C152A-Tg DOX (+)</text>
<rect x="527.5" y="56.5" width="11.0" height="5.0" fill="#e01a22" stroke="#231f20" stroke-width="0.6"/>
<text x="541.6" y="62.300000000000004" stroke="#231f20" stroke-width="0.22">C152A-Tg DOX (-)</text>
<text x="636.3" y="11.7" font-size="14" fill="#000" font-weight="bold">D</text>
<line x1="661.5" y1="39.8" x2="661.5" y2="105.0" stroke="#231f20" stroke-width="0.9"/>
<line x1="661.4" y1="105.5" x2="727" y2="105.5" stroke="#231f20" stroke-width="0.9"/>
<line x1="657.9" y1="105.5" x2="661.4" y2="105.5" stroke="#231f20" stroke-width="0.9"/>
<text x="656.4" y="108.1" text-anchor="end" stroke="#231f20" stroke-width="0.22">0</text>
<line x1="657.9" y1="88.5" x2="661.4" y2="88.5" stroke="#231f20" stroke-width="0.9"/>
<text x="656.4" y="91.8" text-anchor="end" stroke="#231f20" stroke-width="0.22">2</text>
<line x1="657.9" y1="72.5" x2="661.4" y2="72.5" stroke="#231f20" stroke-width="0.9"/>
<text x="656.4" y="75.5" text-anchor="end" stroke="#231f20" stroke-width="0.22">4</text>
<line x1="657.9" y1="56.5" x2="661.4" y2="56.5" stroke="#231f20" stroke-width="0.9"/>
<text x="656.4" y="59.199999999999996" text-anchor="end" stroke="#231f20" stroke-width="0.22">6</text>
<line x1="657.9" y1="39.5" x2="661.4" y2="39.5" stroke="#231f20" stroke-width="0.9"/>
<text x="656.4" y="42.9" text-anchor="end" stroke="#231f20" stroke-width="0.22">8</text>
<text x="0" y="0" text-anchor="middle" stroke="#231f20" stroke-width="0.22" transform="translate(635.5,72) rotate(-90)">Neurological</text>
<text x="0" y="0" text-anchor="middle" stroke="#231f20" stroke-width="0.22" transform="translate(644.6,72) rotate(-90)">score</text>
<circle cx="667.6" cy="56.099999999999994" r="1.65" fill="#2aa0d0"/>
<circle cx="672.6" cy="56.099999999999994" r="1.65" fill="#2aa0d0"/>
<circle cx="665.1" cy="64.25" r="1.65" fill="#2aa0d0"/>
<circle cx="668.4" cy="64.25" r="1.65" fill="#2aa0d0"/>
<circle cx="671.8000000000001" cy="64.25" r="1.65" fill="#2aa0d0"/>
<circle cx="675.1" cy="64.25" r="1.65" fill="#2aa0d0"/>
<circle cx="670.1" cy="72.4" r="1.65" fill="#2aa0d0"/>
<line x1="664.8000000000001" y1="63.5" x2="675.4" y2="63.5" stroke="#2aa0d0" stroke-width="1.3"/>
<line x1="670.5" y1="57.485499999999995" x2="670.5" y2="68.7325" stroke="#2aa0d0" stroke-width="1.2"/>
<line x1="667.4" y1="57.5" x2="672.8000000000001" y2="57.5" stroke="#2aa0d0" stroke-width="1.2"/>
<line x1="667.4" y1="68.5" x2="672.8000000000001" y2="68.5" stroke="#2aa0d0" stroke-width="1.2"/>
<circle cx="686.8" cy="47.949999999999996" r="1.65" fill="#1f4aa0"/>
<circle cx="686.8" cy="56.099999999999994" r="1.65" fill="#1f4aa0"/>
<circle cx="681.8" cy="64.25" r="1.65" fill="#1f4aa0"/>
<circle cx="685.0999999999999" cy="64.25" r="1.65" fill="#1f4aa0"/>
<circle cx="688.5" cy="64.25" r="1.65" fill="#1f4aa0"/>
<circle cx="691.8" cy="64.25" r="1.65" fill="#1f4aa0"/>
<line x1="681.5" y1="58.5" x2="692.0999999999999" y2="58.5" stroke="#1f4aa0" stroke-width="1.3"/>
<line x1="686.5" y1="52.4325" x2="686.5" y2="65.1465" stroke="#1f4aa0" stroke-width="1.2"/>
<line x1="684.0999999999999" y1="52.5" x2="689.5" y2="52.5" stroke="#1f4aa0" stroke-width="1.2"/>
<line x1="684.0999999999999" y1="65.5" x2="689.5" y2="65.5" stroke="#1f4aa0" stroke-width="1.2"/>
<circle cx="699.8000000000001" cy="56.099999999999994" r="1.65" fill="#f07c84"/>
<circle cx="703.2" cy="56.099999999999994" r="1.65" fill="#f07c84"/>
<circle cx="706.6" cy="56.099999999999994" r="1.65" fill="#f07c84"/>
<circle cx="699.8000000000001" cy="64.25" r="1.65" fill="#f07c84"/>
<circle cx="703.2" cy="64.25" r="1.65" fill="#f07c84"/>
<circle cx="706.6" cy="64.25" r="1.65" fill="#f07c84"/>
<line x1="697.9000000000001" y1="60.5" x2="708.5" y2="60.5" stroke="#f07c84" stroke-width="1.3"/>
<line x1="703.5" y1="56.099999999999994" x2="703.5" y2="64.25" stroke="#f07c84" stroke-width="1.2"/>
<line x1="700.5" y1="56.5" x2="705.9000000000001" y2="56.5" stroke="#f07c84" stroke-width="1.2"/>
<line x1="700.5" y1="64.5" x2="705.9000000000001" y2="64.5" stroke="#f07c84" stroke-width="1.2"/>
<circle cx="716.8" cy="56.099999999999994" r="1.65" fill="#e0141e"/>
<circle cx="721.8" cy="56.099999999999994" r="1.65" fill="#e0141e"/>
<circle cx="716.8" cy="72.4" r="1.65" fill="#e0141e"/>
<circle cx="721.8" cy="72.4" r="1.65" fill="#e0141e"/>
<circle cx="715.9" cy="80.55" r="1.65" fill="#e0141e"/>
<circle cx="719.3" cy="80.55" r="1.65" fill="#e0141e"/>
<circle cx="722.6999999999999" cy="80.55" r="1.65" fill="#e0141e"/>
<circle cx="716.8" cy="88.7" r="1.65" fill="#e0141e"/>
<circle cx="721.8" cy="88.7" r="1.65" fill="#e0141e"/>
<line x1="714.0" y1="76.5" x2="724.5999999999999" y2="76.5" stroke="#e0141e" stroke-width="1.3"/>
<line x1="719.5" y1="65.39099999999999" x2="719.5" y2="87.559" stroke="#e0141e" stroke-width="1.2"/>
<line x1="716.5999999999999" y1="65.5" x2="722.0" y2="65.5" stroke="#e0141e" stroke-width="1.2"/>
<line x1="716.5999999999999" y1="87.5" x2="722.0" y2="87.5" stroke="#e0141e" stroke-width="1.2"/>
<path d="M703.5,46.0 L703.5,40.5 L719.5,40.5 L719.5,50.4" stroke="#444" stroke-width="0.9" fill="none"/>
<path d="M704.80,35.80 L709.20,35.80 M705.90,33.89 L708.10,37.71 M708.10,33.89 L705.90,37.71 " stroke="#333" stroke-width="1.0" fill="none"/>
<path d="M711.00,35.80 L715.40,35.80 M712.10,33.89 L714.30,37.71 M714.30,33.89 L712.10,37.71 " stroke="#333" stroke-width="1.0" fill="none"/>
<text x="633" y="118" stroke="#231f20" stroke-width="0.22">DOX:</text>
<text x="670.7" y="118" text-anchor="middle" stroke="#231f20" stroke-width="0.22">+</text>
<text x="686.8" y="118" text-anchor="middle" stroke="#231f20" stroke-width="0.22">-</text>
<text x="702.7" y="118" text-anchor="middle" stroke="#231f20" stroke-width="0.22">+</text>
<text x="719.7" y="118" text-anchor="middle" stroke="#231f20" stroke-width="0.22">-</text>
<line x1="663.7" y1="124.5" x2="695.4" y2="124.5" stroke="#231f20" stroke-width="0.9"/>
<line x1="699.5" y1="124.5" x2="728" y2="124.5" stroke="#231f20" stroke-width="0.9"/>
<text x="679.6" y="135.8" text-anchor="middle" fill="#2e4fa3" stroke="#2e4fa3" stroke-width="0.22">Non</text>
<text x="679.6" y="144.4" text-anchor="middle" fill="#2e4fa3" stroke="#2e4fa3" stroke-width="0.22">-Tg</text>
<text x="713.4" y="135.8" text-anchor="middle" fill="#e0202a" stroke="#e0202a" stroke-width="0.22">C152A</text>
<text x="713.4" y="144.4" text-anchor="middle" fill="#e0202a" stroke="#e0202a" stroke-width="0.22">-Tg</text>
<text x="0.4" y="233.4" font-size="13.8" fill="#000" font-weight="bold">E</text>
<line x1="42.5" y1="241.8" x2="42.5" y2="341.3" stroke="#231f20" stroke-width="0.9"/>
<line x1="42.4" y1="341.5" x2="156.6" y2="341.5" stroke="#231f20" stroke-width="0.9"/>
<line x1="38.9" y1="341.5" x2="42.4" y2="341.5" stroke="#231f20" stroke-width="0.9"/>
<text x="37.4" y="344.40000000000003" text-anchor="end" stroke="#231f20" stroke-width="0.22">0</text>
<line x1="38.9" y1="300.5" x2="42.4" y2="300.5" stroke="#231f20" stroke-width="0.9"/>
<text x="37.4" y="303.30000000000007" text-anchor="end" stroke="#231f20" stroke-width="0.22">50</text>
<line x1="38.9" y1="259.5" x2="42.4" y2="259.5" stroke="#231f20" stroke-width="0.9"/>
<text x="37.4" y="262.20000000000005" text-anchor="end" stroke="#231f20" stroke-width="0.22">100</text>
<line x1="42.5" y1="341.3" x2="42.5" y2="344.8" stroke="#231f20" stroke-width="0.9"/>
<text x="42.4" y="355" text-anchor="middle" stroke="#231f20" stroke-width="0.22">-15</text>
<line x1="70.5" y1="341.3" x2="70.5" y2="344.8" stroke="#231f20" stroke-width="0.9"/>
<text x="70.95" y="355" text-anchor="middle" stroke="#231f20" stroke-width="0.22">0</text>
<line x1="99.5" y1="341.3" x2="99.5" y2="344.8" stroke="#231f20" stroke-width="0.9"/>
<text x="99.5" y="355" text-anchor="middle" stroke="#231f20" stroke-width="0.22">15</text>
<line x1="128.5" y1="341.3" x2="128.5" y2="344.8" stroke="#231f20" stroke-width="0.9"/>
<text x="128.05" y="355" text-anchor="middle" stroke="#231f20" stroke-width="0.22">30</text>
<line x1="156.5" y1="341.3" x2="156.5" y2="344.8" stroke="#231f20" stroke-width="0.9"/>
<text x="156.6" y="355" text-anchor="middle" stroke="#231f20" stroke-width="0.22">45</text>
<text x="164.79999999999998" y="355" stroke="#231f20" stroke-width="0.22">(min)</text>
<text x="0" y="0" text-anchor="middle" stroke="#231f20" stroke-width="0.22" transform="translate(15.3,298.9) rotate(-90)">Cerebral Blood Flow (%)</text>
<line x1="70.5" y1="366.5" x2="70.5" y2="361.5" stroke="#231f20" stroke-width="0.7"/>
<path d="M69.65,363.2 L70.95,360.8 L72.25,363.2" stroke="#231f20" stroke-width="0.7" fill="none"/>
<text x="70.95" y="375.5" text-anchor="middle" stroke="#231f20" stroke-width="0.22">Occulusion</text>
<line x1="128.5" y1="366.5" x2="128.5" y2="361.5" stroke="#231f20" stroke-width="0.7"/>
<path d="M126.75000000000001,363.2 L128.05,360.8 L129.35000000000002,363.2" stroke="#231f20" stroke-width="0.7" fill="none"/>
<text x="128.05" y="375.5" text-anchor="middle" stroke="#231f20" stroke-width="0.22">Reperfusion</text>
<line x1="70.95" y1="258.278" x2="70.95" y2="268.142" stroke="#2a2a70" stroke-width="0.6" opacity="0.85"/>
<line x1="69.35000000000001" y1="258.5" x2="72.55" y2="258.5" stroke="#2a2a70" stroke-width="0.8" opacity="0.85"/>
<line x1="69.35000000000001" y1="268.5" x2="72.55" y2="268.5" stroke="#2a2a70" stroke-width="0.8" opacity="0.85"/>
<line x1="70.95" y1="314.99600000000004" x2="70.95" y2="328.148" stroke="#2a2a70" stroke-width="0.6" opacity="0.85"/>
<line x1="69.35000000000001" y1="314.5" x2="72.55" y2="314.5" stroke="#2a2a70" stroke-width="0.8" opacity="0.85"/>
<line x1="69.35000000000001" y1="328.5" x2="72.55" y2="328.5" stroke="#2a2a70" stroke-width="0.8" opacity="0.85"/>
<line x1="99.5" y1="318.284" x2="99.5" y2="328.148" stroke="#2a2a70" stroke-width="0.6" opacity="0.85"/>
<line x1="97.9" y1="318.5" x2="101.1" y2="318.5" stroke="#2a2a70" stroke-width="0.8" opacity="0.85"/>
<line x1="97.9" y1="328.5" x2="101.1" y2="328.5" stroke="#2a2a70" stroke-width="0.8" opacity="0.85"/>
<line x1="128.05" y1="314.99600000000004" x2="128.05" y2="328.148" stroke="#2a2a70" stroke-width="0.6" opacity="0.85"/>
<line x1="126.45000000000002" y1="314.5" x2="129.65" y2="314.5" stroke="#2a2a70" stroke-width="0.8" opacity="0.85"/>
<line x1="126.45000000000002" y1="328.5" x2="129.65" y2="328.5" stroke="#2a2a70" stroke-width="0.8" opacity="0.85"/>
<line x1="128.05" y1="284.582" x2="128.05" y2="307.598" stroke="#2a2a70" stroke-width="0.6" opacity="0.85"/>
<line x1="126.45000000000002" y1="284.5" x2="129.65" y2="284.5" stroke="#2a2a70" stroke-width="0.8" opacity="0.85"/>
<line x1="126.45000000000002" y1="307.5" x2="129.65" y2="307.5" stroke="#2a2a70" stroke-width="0.8" opacity="0.85"/>
<line x1="156.6" y1="248.82500000000002" x2="156.6" y2="317.873" stroke="#2a2a70" stroke-width="0.6" opacity="0.85"/>
<line x1="155.0" y1="248.5" x2="158.2" y2="248.5" stroke="#2a2a70" stroke-width="0.8" opacity="0.85"/>
<line x1="155.0" y1="317.5" x2="158.2" y2="317.5" stroke="#2a2a70" stroke-width="0.8" opacity="0.85"/>
<line x1="70.95" y1="257.456" x2="70.95" y2="265.67600000000004" stroke="#3050b8" stroke-width="0.6" opacity="0.85"/>
<line x1="69.35000000000001" y1="257.5" x2="72.55" y2="257.5" stroke="#3050b8" stroke-width="0.8" opacity="0.85"/>
<line x1="69.35000000000001" y1="265.5" x2="72.55" y2="265.5" stroke="#3050b8" stroke-width="0.8" opacity="0.85"/>
<line x1="70.95" y1="310.064" x2="70.95" y2="326.504" stroke="#3050b8" stroke-width="0.6" opacity="0.85"/>
<line x1="69.35000000000001" y1="310.5" x2="72.55" y2="310.5" stroke="#3050b8" stroke-width="0.8" opacity="0.85"/>
<line x1="69.35000000000001" y1="326.5" x2="72.55" y2="326.5" stroke="#3050b8" stroke-width="0.8" opacity="0.85"/>
<line x1="99.5" y1="310.886" x2="99.5" y2="325.682" stroke="#3050b8" stroke-width="0.6" opacity="0.85"/>
<line x1="97.9" y1="310.5" x2="101.1" y2="310.5" stroke="#3050b8" stroke-width="0.8" opacity="0.85"/>
<line x1="97.9" y1="325.5" x2="101.1" y2="325.5" stroke="#3050b8" stroke-width="0.8" opacity="0.85"/>
<line x1="128.05" y1="311.708" x2="128.05" y2="328.148" stroke="#3050b8" stroke-width="0.6" opacity="0.85"/>
<line x1="126.45000000000002" y1="311.5" x2="129.65" y2="311.5" stroke="#3050b8" stroke-width="0.8" opacity="0.85"/>
<line x1="126.45000000000002" y1="328.5" x2="129.65" y2="328.5" stroke="#3050b8" stroke-width="0.8" opacity="0.85"/>
<line x1="128.05" y1="262.38800000000003" x2="128.05" y2="296.91200000000003" stroke="#3050b8" stroke-width="0.6" opacity="0.85"/>
<line x1="126.45000000000002" y1="262.5" x2="129.65" y2="262.5" stroke="#3050b8" stroke-width="0.8" opacity="0.85"/>
<line x1="126.45000000000002" y1="296.5" x2="129.65" y2="296.5" stroke="#3050b8" stroke-width="0.8" opacity="0.85"/>
<line x1="156.6" y1="247.592" x2="156.6" y2="293.624" stroke="#3050b8" stroke-width="0.6" opacity="0.85"/>
<line x1="155.0" y1="247.5" x2="158.2" y2="247.5" stroke="#3050b8" stroke-width="0.8" opacity="0.85"/>
<line x1="155.0" y1="293.5" x2="158.2" y2="293.5" stroke="#3050b8" stroke-width="0.8" opacity="0.85"/>
<line x1="70.95" y1="257.456" x2="70.95" y2="264.03200000000004" stroke="#b02830" stroke-width="0.6" opacity="0.85"/>
<line x1="69.35000000000001" y1="257.5" x2="72.55" y2="257.5" stroke="#b02830" stroke-width="0.8" opacity="0.85"/>
<line x1="69.35000000000001" y1="264.5" x2="72.55" y2="264.5" stroke="#b02830" stroke-width="0.8" opacity="0.85"/>
<line x1="70.95" y1="310.886" x2="70.95" y2="327.326" stroke="#b02830" stroke-width="0.6" opacity="0.85"/>
<line x1="69.35000000000001" y1="310.5" x2="72.55" y2="310.5" stroke="#b02830" stroke-width="0.8" opacity="0.85"/>
<line x1="69.35000000000001" y1="327.5" x2="72.55" y2="327.5" stroke="#b02830" stroke-width="0.8" opacity="0.85"/>
<line x1="99.5" y1="314.17400000000004" x2="99.5" y2="328.97" stroke="#b02830" stroke-width="0.6" opacity="0.85"/>
<line x1="97.9" y1="314.5" x2="101.1" y2="314.5" stroke="#b02830" stroke-width="0.8" opacity="0.85"/>
<line x1="97.9" y1="328.5" x2="101.1" y2="328.5" stroke="#b02830" stroke-width="0.8" opacity="0.85"/>
<line x1="128.05" y1="316.64" x2="128.05" y2="329.79200000000003" stroke="#b02830" stroke-width="0.6" opacity="0.85"/>
<line x1="126.45000000000002" y1="316.5" x2="129.65" y2="316.5" stroke="#b02830" stroke-width="0.8" opacity="0.85"/>
<line x1="126.45000000000002" y1="329.5" x2="129.65" y2="329.5" stroke="#b02830" stroke-width="0.8" opacity="0.85"/>
<line x1="128.05" y1="279.65000000000003" x2="128.05" y2="302.666" stroke="#b02830" stroke-width="0.6" opacity="0.85"/>
<line x1="126.45000000000002" y1="279.5" x2="129.65" y2="279.5" stroke="#b02830" stroke-width="0.8" opacity="0.85"/>
<line x1="126.45000000000002" y1="302.5" x2="129.65" y2="302.5" stroke="#b02830" stroke-width="0.8" opacity="0.85"/>
<line x1="156.6" y1="261.56600000000003" x2="156.6" y2="278.00600000000003" stroke="#b02830" stroke-width="0.6" opacity="0.85"/>
<line x1="155.0" y1="261.5" x2="158.2" y2="261.5" stroke="#b02830" stroke-width="0.8" opacity="0.85"/>
<line x1="155.0" y1="278.5" x2="158.2" y2="278.5" stroke="#b02830" stroke-width="0.8" opacity="0.85"/>
<line x1="70.95" y1="257.456" x2="70.95" y2="264.03200000000004" stroke="#e82028" stroke-width="0.6" opacity="0.85"/>
<line x1="69.35000000000001" y1="257.5" x2="72.55" y2="257.5" stroke="#e82028" stroke-width="0.8" opacity="0.85"/>
<line x1="69.35000000000001" y1="264.5" x2="72.55" y2="264.5" stroke="#e82028" stroke-width="0.8" opacity="0.85"/>
<line x1="70.95" y1="306.776" x2="70.95" y2="323.216" stroke="#e82028" stroke-width="0.6" opacity="0.85"/>
<line x1="69.35000000000001" y1="306.5" x2="72.55" y2="306.5" stroke="#e82028" stroke-width="0.8" opacity="0.85"/>
<line x1="69.35000000000001" y1="323.5" x2="72.55" y2="323.5" stroke="#e82028" stroke-width="0.8" opacity="0.85"/>
<line x1="99.5" y1="314.17400000000004" x2="99.5" y2="327.326" stroke="#e82028" stroke-width="0.6" opacity="0.85"/>
<line x1="97.9" y1="314.5" x2="101.1" y2="314.5" stroke="#e82028" stroke-width="0.8" opacity="0.85"/>
<line x1="97.9" y1="327.5" x2="101.1" y2="327.5" stroke="#e82028" stroke-width="0.8" opacity="0.85"/>
<line x1="128.05" y1="313.35200000000003" x2="128.05" y2="326.504" stroke="#e82028" stroke-width="0.6" opacity="0.85"/>
<line x1="126.45000000000002" y1="313.5" x2="129.65" y2="313.5" stroke="#e82028" stroke-width="0.8" opacity="0.85"/>
<line x1="126.45000000000002" y1="326.5" x2="129.65" y2="326.5" stroke="#e82028" stroke-width="0.8" opacity="0.85"/>
<line x1="128.05" y1="271.43" x2="128.05" y2="297.73400000000004" stroke="#e82028" stroke-width="0.6" opacity="0.85"/>
<line x1="126.45000000000002" y1="271.5" x2="129.65" y2="271.5" stroke="#e82028" stroke-width="0.8" opacity="0.85"/>
<line x1="126.45000000000002" y1="297.5" x2="129.65" y2="297.5" stroke="#e82028" stroke-width="0.8" opacity="0.85"/>
<line x1="156.6" y1="248.82500000000002" x2="156.6" y2="288.281" stroke="#e82028" stroke-width="0.6" opacity="0.85"/>
<line x1="155.0" y1="248.5" x2="158.2" y2="248.5" stroke="#e82028" stroke-width="0.8" opacity="0.85"/>
<line x1="155.0" y1="288.5" x2="158.2" y2="288.5" stroke="#e82028" stroke-width="0.8" opacity="0.85"/>
<line x1="70.95" y1="257.456" x2="70.95" y2="265.67600000000004" stroke="#111111" stroke-width="0.6" opacity="0.85"/>
<line x1="69.35000000000001" y1="257.5" x2="72.55" y2="257.5" stroke="#111111" stroke-width="0.8" opacity="0.85"/>
<line x1="69.35000000000001" y1="265.5" x2="72.55" y2="265.5" stroke="#111111" stroke-width="0.8" opacity="0.85"/>
<line x1="70.95" y1="318.284" x2="70.95" y2="331.43600000000004" stroke="#111111" stroke-width="0.6" opacity="0.85"/>
<line x1="69.35000000000001" y1="318.5" x2="72.55" y2="318.5" stroke="#111111" stroke-width="0.8" opacity="0.85"/>
<line x1="69.35000000000001" y1="331.5" x2="72.55" y2="331.5" stroke="#111111" stroke-width="0.8" opacity="0.85"/>
<line x1="99.5" y1="321.572" x2="99.5" y2="331.43600000000004" stroke="#111111" stroke-width="0.6" opacity="0.85"/>
<line x1="97.9" y1="321.5" x2="101.1" y2="321.5" stroke="#111111" stroke-width="0.8" opacity="0.85"/>
<line x1="97.9" y1="331.5" x2="101.1" y2="331.5" stroke="#111111" stroke-width="0.8" opacity="0.85"/>
<line x1="128.05" y1="322.394" x2="128.05" y2="332.25800000000004" stroke="#111111" stroke-width="0.6" opacity="0.85"/>
<line x1="126.45000000000002" y1="322.5" x2="129.65" y2="322.5" stroke="#111111" stroke-width="0.8" opacity="0.85"/>
<line x1="126.45000000000002" y1="332.5" x2="129.65" y2="332.5" stroke="#111111" stroke-width="0.8" opacity="0.85"/>
<line x1="128.05" y1="270.608" x2="128.05" y2="290.336" stroke="#111111" stroke-width="0.6" opacity="0.85"/>
<line x1="126.45000000000002" y1="270.5" x2="129.65" y2="270.5" stroke="#111111" stroke-width="0.8" opacity="0.85"/>
<line x1="126.45000000000002" y1="290.5" x2="129.65" y2="290.5" stroke="#111111" stroke-width="0.8" opacity="0.85"/>
<line x1="156.6" y1="254.99" x2="156.6" y2="291.158" stroke="#111111" stroke-width="0.6" opacity="0.85"/>
<line x1="155.0" y1="254.5" x2="158.2" y2="254.5" stroke="#111111" stroke-width="0.8" opacity="0.85"/>
<line x1="155.0" y1="291.5" x2="158.2" y2="291.5" stroke="#111111" stroke-width="0.8" opacity="0.85"/>
<line x1="70.5" y1="260.744" x2="70.5" y2="326.504" stroke="#555" stroke-width="1.1"/>
<line x1="128.5" y1="327.326" x2="128.5" y2="279.65000000000003" stroke="#444" stroke-width="1.1"/>
<line x1="42.4" y1="259.1" x2="70.95" y2="263.21000000000004" stroke="#2a2a70" stroke-width="0.9"/>
<line x1="70.95" y1="321.572" x2="99.5" y2="323.216" stroke="#2a2a70" stroke-width="0.9"/>
<line x1="99.5" y1="323.216" x2="128.05" y2="321.572" stroke="#2a2a70" stroke-width="0.9"/>
<line x1="128.05" y1="296.09000000000003" x2="156.6" y2="283.34900000000005" stroke="#2a2a70" stroke-width="0.9"/>
<line x1="42.4" y1="259.1" x2="70.95" y2="261.56600000000003" stroke="#3050b8" stroke-width="0.9"/>
<line x1="70.95" y1="318.5" x2="99.5" y2="318.5" stroke="#3050b8" stroke-width="0.9"/>
<line x1="99.5" y1="318.284" x2="128.05" y2="319.928" stroke="#3050b8" stroke-width="0.9"/>
<line x1="128.05" y1="279.65000000000003" x2="156.6" y2="270.608" stroke="#3050b8" stroke-width="0.9"/>
<line x1="42.4" y1="259.1" x2="70.95" y2="260.744" stroke="#b02830" stroke-width="0.9"/>
<line x1="70.95" y1="319.106" x2="99.5" y2="321.572" stroke="#b02830" stroke-width="0.9"/>
<line x1="99.5" y1="321.572" x2="128.05" y2="323.216" stroke="#b02830" stroke-width="0.9"/>
<line x1="128.05" y1="291.158" x2="156.6" y2="269.786" stroke="#b02830" stroke-width="0.9"/>
<line x1="42.4" y1="259.1" x2="70.95" y2="260.744" stroke="#e82028" stroke-width="0.9"/>
<line x1="70.95" y1="314.99600000000004" x2="99.5" y2="320.75" stroke="#e82028" stroke-width="0.9"/>
<line x1="99.5" y1="320.75" x2="128.05" y2="319.928" stroke="#e82028" stroke-width="0.9"/>
<line x1="128.05" y1="284.582" x2="156.6" y2="268.553" stroke="#e82028" stroke-width="0.9"/>
<line x1="42.4" y1="259.1" x2="70.95" y2="261.56600000000003" stroke="#111111" stroke-width="0.9"/>
<line x1="70.95" y1="324.86" x2="99.5" y2="326.504" stroke="#111111" stroke-width="0.9"/>
<line x1="99.5" y1="326.504" x2="128.05" y2="327.326" stroke="#111111" stroke-width="0.9"/>
<line x1="128.05" y1="280.47200000000004" x2="156.6" y2="273.074" stroke="#111111" stroke-width="0.9"/>
<rect x="40.1" y="256.8" width="4.6" height="4.6" fill="#2a2a70"/>
<rect x="68.65" y="260.91" width="4.6" height="4.6" fill="#2a2a70"/>
<rect x="68.65" y="319.272" width="4.6" height="4.6" fill="#2a2a70"/>
<rect x="97.2" y="320.916" width="4.6" height="4.6" fill="#2a2a70"/>
<rect x="125.75000000000001" y="319.272" width="4.6" height="4.6" fill="#2a2a70"/>
<rect x="125.75000000000001" y="293.79" width="4.6" height="4.6" fill="#2a2a70"/>
<rect x="154.29999999999998" y="281.04900000000004" width="4.6" height="4.6" fill="#2a2a70"/>
<circle cx="42.4" cy="259.1" r="2.415" fill="#3050b8"/>
<circle cx="70.95" cy="261.56600000000003" r="2.415" fill="#3050b8"/>
<circle cx="70.95" cy="318.284" r="2.415" fill="#3050b8"/>
<circle cx="99.5" cy="318.284" r="2.415" fill="#3050b8"/>
<circle cx="128.05" cy="319.928" r="2.415" fill="#3050b8"/>
<circle cx="128.05" cy="279.65000000000003" r="2.415" fill="#3050b8"/>
<circle cx="156.6" cy="270.608" r="2.415" fill="#3050b8"/>
<path d="M39.525,256.8 L45.275,256.8 L42.4,262.09000000000003Z" stroke="none" stroke-width="0.8" fill="#b02830"/>
<path d="M68.075,258.444 L73.825,258.444 L70.95,263.73400000000004Z" stroke="none" stroke-width="0.8" fill="#b02830"/>
<path d="M68.075,316.806 L73.825,316.806 L70.95,322.096Z" stroke="none" stroke-width="0.8" fill="#b02830"/>
<path d="M96.625,319.272 L102.375,319.272 L99.5,324.562Z" stroke="none" stroke-width="0.8" fill="#b02830"/>
<path d="M125.17500000000001,320.916 L130.925,320.916 L128.05,326.206Z" stroke="none" stroke-width="0.8" fill="#b02830"/>
<path d="M125.17500000000001,288.858 L130.925,288.858 L128.05,294.148Z" stroke="none" stroke-width="0.8" fill="#b02830"/>
<path d="M153.725,267.486 L159.475,267.486 L156.6,272.776Z" stroke="none" stroke-width="0.8" fill="#b02830"/>
<path d="M39.525,261.40000000000003 L45.275,261.40000000000003 L42.4,256.11Z" stroke="none" stroke-width="0.8" fill="#e82028"/>
<path d="M68.075,263.04400000000004 L73.825,263.04400000000004 L70.95,257.754Z" stroke="none" stroke-width="0.8" fill="#e82028"/>
<path d="M68.075,317.29600000000005 L73.825,317.29600000000005 L70.95,312.00600000000003Z" stroke="none" stroke-width="0.8" fill="#e82028"/>
<path d="M96.625,323.05 L102.375,323.05 L99.5,317.76Z" stroke="none" stroke-width="0.8" fill="#e82028"/>
<path d="M125.17500000000001,322.228 L130.925,322.228 L128.05,316.938Z" stroke="none" stroke-width="0.8" fill="#e82028"/>
<path d="M125.17500000000001,286.882 L130.925,286.882 L128.05,281.592Z" stroke="none" stroke-width="0.8" fill="#e82028"/>
<path d="M153.725,270.853 L159.475,270.853 L156.6,265.563Z" stroke="none" stroke-width="0.8" fill="#e82028"/>
<path d="M42.4,255.99500000000003 L45.504999999999995,259.1 L42.4,262.20500000000004 L39.295,259.1Z" stroke="none" stroke-width="0.8" fill="#111111"/>
<path d="M70.95,258.461 L74.055,261.56600000000003 L70.95,264.67100000000005 L67.845,261.56600000000003Z" stroke="none" stroke-width="0.8" fill="#111111"/>
<path d="M70.95,321.755 L74.055,324.86 L70.95,327.96500000000003 L67.845,324.86Z" stroke="none" stroke-width="0.8" fill="#111111"/>
<path d="M99.5,323.399 L102.605,326.504 L99.5,329.60900000000004 L96.395,326.504Z" stroke="none" stroke-width="0.8" fill="#111111"/>
<path d="M128.05,324.221 L131.155,327.326 L128.05,330.43100000000004 L124.94500000000001,327.326Z" stroke="none" stroke-width="0.8" fill="#111111"/>
<path d="M128.05,277.367 L131.155,280.47200000000004 L128.05,283.57700000000006 L124.94500000000001,280.47200000000004Z" stroke="none" stroke-width="0.8" fill="#111111"/>
<path d="M156.6,269.969 L159.70499999999998,273.074 L156.6,276.17900000000003 L153.495,273.074Z" stroke="none" stroke-width="0.8" fill="#111111"/>
<line x1="174.5" y1="255.5" x2="186.7" y2="255.5" stroke="#111111" stroke-width="0.9"/>
<path d="M180.6,252.765 L183.435,255.6 L180.6,258.435 L177.765,255.6Z" stroke="none" stroke-width="0.8" fill="#111111"/>
<text x="189.1" y="258.7" font-size="8.75" fill="#111111" stroke="#111111" stroke-width="0.22">NT</text>
<line x1="174.5" y1="265.5" x2="186.7" y2="265.5" stroke="#2a2a70" stroke-width="0.9"/>
<rect x="178.5" y="263.54999999999995" width="4.2" height="4.2" fill="#2a2a70"/>
<text x="189.1" y="268.75" font-size="8.75" fill="#2a2a70" stroke="#2a2a70" stroke-width="0.22">Non-Tg DOX (+)</text>
<line x1="174.5" y1="275.5" x2="186.7" y2="275.5" stroke="#3050b8" stroke-width="0.9"/>
<circle cx="180.6" cy="275.7" r="2.205" fill="#3050b8"/>
<text x="189.1" y="278.8" font-size="8.75" fill="#3050b8" stroke="#3050b8" stroke-width="0.22">Non-Tg DOX (-)</text>
<line x1="174.5" y1="285.5" x2="186.7" y2="285.5" stroke="#b02830" stroke-width="0.9"/>
<path d="M177.975,283.65 L183.225,283.65 L180.6,288.48Z" stroke="none" stroke-width="0.8" fill="#b02830"/>
<text x="189.1" y="288.85" font-size="8.75" fill="#b02830" stroke="#b02830" stroke-width="0.22">C152A DOX (+)</text>
<line x1="174.5" y1="295.5" x2="186.7" y2="295.5" stroke="#e82028" stroke-width="0.9"/>
<path d="M177.975,297.90000000000003 L183.225,297.90000000000003 L180.6,293.07Z" stroke="none" stroke-width="0.8" fill="#e82028"/>
<text x="189.1" y="298.90000000000003" font-size="8.75" fill="#e82028" stroke="#e82028" stroke-width="0.22">C152A DOX (-)</text>
<text x="266.3" y="232.6" font-size="13.6" fill="#000" font-weight="bold">F</text>
<rect x="287.5" y="224.5" width="77.0" height="12.0" fill="#fff" stroke="#231f20" stroke-width="0.9"/>
<text x="325.0" y="232.8" font-size="8.65" text-anchor="middle" stroke="#231f20" stroke-width="0.22">Insoluble Fraction</text>
<text x="325.3" y="244.2" font-size="8.7" text-anchor="middle" stroke="#231f20" stroke-width="0.22">C152A-Tg</text>
<line x1="305.4" y1="248.5" x2="345.4" y2="248.5" stroke="#231f20" stroke-width="0.9"/>
<text x="281.7" y="255.8" stroke="#231f20" stroke-width="0.22">DOX:</text>
<text x="313.5" y="255.8" text-anchor="middle" stroke="#231f20" stroke-width="0.22">+</text>
<text x="334.3" y="255.8" text-anchor="middle" stroke="#231f20" stroke-width="0.22">-</text>
<text x="351" y="255.3" stroke="#231f20" stroke-width="0.22">(kDa)</text>
<defs>
<filter id="bl1" x="-50%" y="-50%" width="200%" height="200%"><feGaussianBlur stdDeviation="1.1"/></filter>
<filter id="bl2" x="-50%" y="-50%" width="200%" height="200%"><feGaussianBlur stdDeviation="0.6"/></filter>
<filter id="bl3" x="-50%" y="-50%" width="200%" height="200%"><feGaussianBlur stdDeviation="2"/></filter>
<linearGradient id="smear1" x1="0" y1="0" x2="0" y2="1">
 <stop offset="0" stop-color="#555"/><stop offset="0.1" stop-color="#6a6a6a"/><stop offset="0.35" stop-color="#828282"/><stop offset="0.55" stop-color="#979797"/><stop offset="0.75" stop-color="#aeaeae"/><stop offset="0.92" stop-color="#bdbdbd"/><stop offset="1" stop-color="#c2c2c2"/>
</linearGradient>
<linearGradient id="smear2" x1="0" y1="0" x2="0" y2="1">
 <stop offset="0" stop-color="#d0d0d0"/><stop offset="0.1" stop-color="#d8d8d8"/><stop offset="0.5" stop-color="#dbdbdb"/><stop offset="1" stop-color="#d6d6d6"/>
</linearGradient>
<filter id="mottle" x="0" y="0" width="100%" height="100%" color-interpolation-filters="sRGB">
 <feTurbulence type="fractalNoise" baseFrequency="0.1 0.3" numOctaves="2" seed="7"/>
 <feColorMatrix type="matrix" values="0.33 0.33 0.33 0 0  0.33 0.33 0.33 0 0  0.33 0.33 0.33 0 0  0 0 0 0 1"/>
 <feComponentTransfer><feFuncR type="linear" slope="0.9" intercept="0.45"/><feFuncG type="linear" slope="0.9" intercept="0.45"/><feFuncB type="linear" slope="0.9" intercept="0.45"/></feComponentTransfer>
</filter>
<linearGradient id="smearMask" x1="0" y1="0" x2="1" y2="0"><stop offset="0" stop-color="#fff" stop-opacity="0"/><stop offset="0.2" stop-color="#fff" stop-opacity="1"/><stop offset="0.8" stop-color="#fff" stop-opacity="1"/><stop offset="1" stop-color="#fff" stop-opacity="0"/></linearGradient>
<clipPath id="cpF1"><rect x="301.1" y="258.4" width="46.6" height="96.2"/></clipPath>
<clipPath id="cpF2"><rect x="300.6" y="356.1" width="47.1" height="17.7"/></clipPath>
</defs>
<rect x="301.1" y="258.4" width="46.6" height="96.2" fill="#e8e8e8"/>
<g clip-path="url(#cpF1)">
<rect x="307.4" y="262.5" width="13.2" height="80" fill="url(#smear1)" filter="url(#bl1)"/>
<rect x="308.2" y="263" width="11.6" height="78" filter="url(#mottle)" style="mix-blend-mode:multiply" opacity="0.3"/>
<rect x="328.6" y="262.5" width="12.4" height="80" fill="url(#smear2)" filter="url(#bl1)"/>
<ellipse cx="314" cy="263.8" rx="6.6" ry="1.5" fill="#404040" filter="url(#bl2)"/>
<ellipse cx="334.8" cy="263.6" rx="6.2" ry="1.1" fill="#b4b4b4" filter="url(#bl2)"/>
<path d="M305.4,347 C305.4,342.5 310,342 313,342 C316,340.6 318.5,340.6 320,342 C322.5,342.6 323.7,344 323.7,347 C323.7,350.5 321,351.6 314.5,351.6 C308,351.6 305.4,350.5 305.4,347 Z" fill="#050505" filter="url(#bl2)"/>
<rect x="323" y="345.5" width="3" height="3" fill="#222" filter="url(#bl2)"/>
<rect x="325.2" y="343.9" width="19.8" height="8.5" rx="4.2" fill="#050505" filter="url(#bl2)"/>
</g>
<rect x="300.6" y="356.1" width="47.1" height="17.7" fill="#d9d9d9"/>
<g clip-path="url(#cpF2)">
<path d="M305.2,363.6 Q313.2,366.6 321.6,363.6" stroke="#0a0a0a" stroke-width="2.9" fill="none" filter="url(#bl2)"/>
<path d="M325.8,365.0 Q334.2,366.6 342.8,365.0" stroke="#0a0a0a" stroke-width="2.7" fill="none" filter="url(#bl2)"/>
</g>
<line x1="348.0" y1="263.5" x2="353.5" y2="263.5" stroke="#231f20" stroke-width="0.9"/>
<text x="355.6" y="266.3" stroke="#231f20" stroke-width="0.22">Top</text>
<line x1="348.0" y1="297.5" x2="353.5" y2="297.5" stroke="#231f20" stroke-width="0.9"/>
<text x="355.6" y="300.8" stroke="#231f20" stroke-width="0.22">250</text>
<line x1="348.0" y1="306.5" x2="353.5" y2="306.5" stroke="#231f20" stroke-width="0.9"/>
<text x="355.6" y="309.1" stroke="#231f20" stroke-width="0.22">150</text>
<line x1="348.0" y1="315.5" x2="353.5" y2="315.5" stroke="#231f20" stroke-width="0.9"/>
<text x="355.6" y="318.70000000000005" stroke="#231f20" stroke-width="0.22">100</text>
<line x1="348.0" y1="324.5" x2="353.5" y2="324.5" stroke="#231f20" stroke-width="0.9"/>
<text x="355.6" y="327.5" stroke="#231f20" stroke-width="0.22">75</text>
<line x1="348.0" y1="336.5" x2="353.5" y2="336.5" stroke="#231f20" stroke-width="0.9"/>
<text x="355.6" y="339.1" stroke="#231f20" stroke-width="0.22">50</text>
<line x1="348.0" y1="348.5" x2="353.5" y2="348.5" stroke="#231f20" stroke-width="0.9"/>
<text x="355.6" y="351.90000000000003" stroke="#231f20" stroke-width="0.22">37</text>
<line x1="348.0" y1="365.5" x2="353.5" y2="365.5" stroke="#231f20" stroke-width="0.9"/>
<text x="355.6" y="368.90000000000003" stroke="#231f20" stroke-width="0.22">15</text>
<path d="M299.2,262.5 L295.5,262.5 L295.5,337.5 L299.2,337.5" stroke="#222" stroke-width="0.9" fill="none"/>
<path d="M298.7,340.5 L295.5,340.5 L295.5,353.5 L298.7,353.5" stroke="#222" stroke-width="0.9" fill="none"/>
<line x1="281.5" y1="263" x2="281.5" y2="354.4" stroke="#231f20" stroke-width="0.9"/>
<text x="0" y="0" text-anchor="middle" stroke="#231f20" stroke-width="0.22" transform="translate(290.8,300) rotate(-90)">Aggregates</text>
<text x="0" y="0" text-anchor="middle" stroke="#231f20" stroke-width="0.22" transform="translate(290.8,346.8) rotate(-90)">Mono.</text>
<text x="264.2" y="313.2" text-anchor="middle" stroke="#231f20" stroke-width="0.22">GAPDH</text>
<text x="279.6" y="368.3" stroke="#231f20" stroke-width="0.22">H2B</text>
<line x1="424.5" y1="274.25" x2="424.5" y2="348.2" stroke="#231f20" stroke-width="0.9"/>
<line x1="424.4" y1="348.5" x2="475.5" y2="348.5" stroke="#231f20" stroke-width="0.9"/>
<line x1="420.9" y1="348.5" x2="424.4" y2="348.5" stroke="#231f20" stroke-width="0.9"/>
<text x="419.4" y="351.3" text-anchor="end" stroke="#231f20" stroke-width="0.22">0</text>
<line x1="420.9" y1="323.5" x2="424.4" y2="323.5" stroke="#231f20" stroke-width="0.9"/>
<text x="419.4" y="326.65000000000003" text-anchor="end" stroke="#231f20" stroke-width="0.22">0.5</text>
<line x1="420.9" y1="298.5" x2="424.4" y2="298.5" stroke="#231f20" stroke-width="0.9"/>
<text x="419.4" y="302.0" text-anchor="end" stroke="#231f20" stroke-width="0.22">1.0</text>
<line x1="420.9" y1="274.5" x2="424.4" y2="274.5" stroke="#231f20" stroke-width="0.9"/>
<text x="419.4" y="277.35" text-anchor="end" stroke="#231f20" stroke-width="0.22">1.5</text>
<rect x="429.5" y="298.5" width="16.0" height="50.0" fill="#fff" stroke="#231f20" stroke-width="0.8"/>
<line x1="437.5" y1="289.533" x2="437.5" y2="308.267" stroke="#231f20" stroke-width="0.8"/>
<line x1="433.3" y1="289.5" x2="441.7" y2="289.5" stroke="#231f20" stroke-width="0.8"/>
<line x1="433.3" y1="308.5" x2="441.7" y2="308.5" stroke="#231f20" stroke-width="0.8"/>
<circle cx="437.5" cy="286.575" r="1.9" fill="#fff" stroke="#231f20" stroke-width="0.8"/>
<circle cx="437.5" cy="297.914" r="1.9" fill="#fff" stroke="#231f20" stroke-width="0.8"/>
<circle cx="434.9" cy="305.30899999999997" r="1.9" fill="#fff" stroke="#231f20" stroke-width="0.8"/>
<circle cx="440.1" cy="305.30899999999997" r="1.9" fill="#fff" stroke="#231f20" stroke-width="0.8"/>
<circle cx="437.5" cy="303.337" r="1.9" fill="#fff" stroke="#231f20" stroke-width="0.8"/>
<rect x="453.5" y="318.5" width="17.0" height="30.0" fill="#7f7f7f" stroke="#231f20" stroke-width="0.8"/>
<line x1="462.5" y1="309.746" x2="462.5" y2="327.98699999999997" stroke="#231f20" stroke-width="0.8"/>
<line x1="458.15" y1="309.5" x2="466.54999999999995" y2="309.5" stroke="#231f20" stroke-width="0.8"/>
<line x1="458.15" y1="327.5" x2="466.54999999999995" y2="327.5" stroke="#231f20" stroke-width="0.8"/>
<circle cx="462.74999999999994" cy="308.76" r="1.9" fill="#fff" stroke="#231f20" stroke-width="0.8"/>
<circle cx="459.45" cy="318.127" r="1.9" fill="#fff" stroke="#231f20" stroke-width="0.8"/>
<circle cx="464.95" cy="320.592" r="1.9" fill="#fff" stroke="#231f20" stroke-width="0.8"/>
<circle cx="462.74999999999994" cy="327.49399999999997" r="1.9" fill="#fff" stroke="#231f20" stroke-width="0.8"/>
<path d="M437.5,278.6 L437.5,272.5 L462.5,272.5 L462.5,293.5" stroke="#444" stroke-width="0.9" fill="none"/>
<path d="M448.50,268.90 L452.90,268.90 M449.60,266.99 L451.80,270.81 M451.80,266.99 L449.60,270.81 " stroke="#333" stroke-width="1.0" fill="none"/>
<text x="0" y="0" font-size="8.7" text-anchor="middle" stroke="#231f20" stroke-width="0.22" transform="translate(394.4,314.9) rotate(-90)">GAPDH aggregates</text>
<text x="0" y="0" font-size="8.7" text-anchor="middle" stroke="#231f20" stroke-width="0.22" transform="translate(403.9,313.6) rotate(-90)">amounts (A.U.)</text>
<text x="406.8" y="358.7" stroke="#231f20" stroke-width="0.22">DOX:</text>
<text x="437.5" y="358.7" text-anchor="middle" stroke="#231f20" stroke-width="0.22">+</text>
<text x="463.2" y="358.7" text-anchor="middle" stroke="#231f20" stroke-width="0.22">-</text>
<line x1="430.8" y1="362.5" x2="474.0" y2="362.5" stroke="#6a6a6a" stroke-width="1.2"/>
<text x="450.5" y="373.2" font-size="8.75" text-anchor="middle" stroke="#231f20" stroke-width="0.22">C152A-Tg</text>
<text x="497.8" y="215.7" font-size="14" fill="#000" font-weight="bold">G</text>
<rect x="521.5" y="207.5" width="77.0" height="12.0" fill="#fff" stroke="#3a5fb0" stroke-width="0.9"/>
<text x="560.4" y="215.8" font-size="8.65" text-anchor="middle" fill="#2e55a8" stroke="#2e55a8" stroke-width="0.22">Cytosolic Fraction</text>
<text x="559.9" y="229.4" font-size="8.7" text-anchor="middle" stroke="#231f20" stroke-width="0.22">C152A-Tg</text>
<line x1="539.9" y1="232.5" x2="580.3" y2="232.5" stroke="#231f20" stroke-width="0.9"/>
<text x="587.9" y="235.3" font-size="8.7" stroke="#231f20" stroke-width="0.22">(kDa)</text>
<text x="515.6" y="239.6" font-size="8.7" stroke="#231f20" stroke-width="0.22">DOX:</text>
<line x1="545.0" y1="236.5" x2="550.2" y2="236.5" stroke="#1a1a1a" stroke-width="0.9"/>
<line x1="547.5" y1="234.20000000000002" x2="547.5" y2="239.4" stroke="#1a1a1a" stroke-width="0.9"/>
<line x1="570.3" y1="237.5" x2="573.5" y2="237.5" stroke="#1a1a1a" stroke-width="0.9"/>
<rect x="535.3" y="241.3" width="49.7" height="20.4" fill="#e3e3e3"/>
<rect x="540.2" y="250.1" width="14.599999999999909" height="3.8" rx="1.9" fill="#080808" filter="url(#bl2)"/>
<rect x="563.9" y="250.6" width="14.5" height="3.0" rx="1.5" fill="#080808" filter="url(#bl2)"/>
<rect x="535.3" y="263.9" width="49.7" height="20.8" fill="#e1e1e1"/>
<rect x="538.9" y="272.2" width="16.100000000000023" height="4.6" rx="2.3" fill="#080808" filter="url(#bl2)"/>
<rect x="563.9" y="272.3" width="16.700000000000045" height="4.4" rx="2.2" fill="#080808" filter="url(#bl2)"/>
<text x="513.9" y="254.9" font-size="8.7" stroke="#231f20" stroke-width="0.22">Cyt c</text>
<text x="517.8" y="277.0" font-size="8.7" stroke="#231f20" stroke-width="0.22">TPI</text>
<line x1="586.2" y1="245.5" x2="589.4" y2="245.5" stroke="#231f20" stroke-width="0.9"/>
<text x="590.1" y="248.6" font-size="8.7" stroke="#231f20" stroke-width="0.22">15</text>
<line x1="586.2" y1="260.5" x2="589.4" y2="260.5" stroke="#231f20" stroke-width="0.9"/>
<text x="590.1" y="263.1" font-size="8.7" stroke="#231f20" stroke-width="0.22">10</text>
<line x1="586.2" y1="266.5" x2="589.4" y2="266.5" stroke="#231f20" stroke-width="0.9"/>
<text x="590.1" y="269.4" font-size="8.7" stroke="#231f20" stroke-width="0.22">37</text>
<line x1="586.2" y1="279.5" x2="589.4" y2="279.5" stroke="#231f20" stroke-width="0.9"/>
<text x="590.1" y="282.4" font-size="8.7" stroke="#231f20" stroke-width="0.22">25</text>
<line x1="540.5" y1="311.2" x2="540.5" y2="385.0" stroke="#231f20" stroke-width="0.9"/>
<line x1="540.0" y1="385.5" x2="590.0" y2="385.5" stroke="#231f20" stroke-width="0.9"/>
<line x1="536.5" y1="385.5" x2="540.0" y2="385.5" stroke="#231f20" stroke-width="0.9"/>
<text x="535.0" y="388.1" text-anchor="end" stroke="#231f20" stroke-width="0.22">0</text>
<line x1="536.5" y1="360.5" x2="540.0" y2="360.5" stroke="#231f20" stroke-width="0.9"/>
<text x="535.0" y="363.5" text-anchor="end" stroke="#231f20" stroke-width="0.22">0.5</text>
<line x1="536.5" y1="335.5" x2="540.0" y2="335.5" stroke="#231f20" stroke-width="0.9"/>
<text x="535.0" y="338.90000000000003" text-anchor="end" stroke="#231f20" stroke-width="0.22">1.0</text>
<line x1="536.5" y1="311.5" x2="540.0" y2="311.5" stroke="#231f20" stroke-width="0.9"/>
<text x="535.0" y="314.3" text-anchor="end" stroke="#231f20" stroke-width="0.22">1.5</text>
<rect x="544.5" y="335.5" width="17.0" height="50.0" fill="#fff" stroke="#231f20" stroke-width="0.8"/>
<line x1="552.5" y1="321.03999999999996" x2="552.5" y2="350.56" stroke="#231f20" stroke-width="0.8"/>
<line x1="548.5" y1="321.5" x2="556.9000000000001" y2="321.5" stroke="#231f20" stroke-width="0.8"/>
<line x1="548.5" y1="350.5" x2="556.9000000000001" y2="350.5" stroke="#231f20" stroke-width="0.8"/>
<circle cx="550.8000000000001" cy="319.072" r="1.9" fill="#fff" stroke="#231f20" stroke-width="0.8"/>
<circle cx="555.6" cy="315.13599999999997" r="1.9" fill="#fff" stroke="#231f20" stroke-width="0.8"/>
<circle cx="550.8000000000001" cy="340.72" r="1.9" fill="#fff" stroke="#231f20" stroke-width="0.8"/>
<circle cx="555.6" cy="342.196" r="1.9" fill="#fff" stroke="#231f20" stroke-width="0.8"/>
<circle cx="551.5" cy="348.1" r="1.9" fill="#fff" stroke="#231f20" stroke-width="0.8"/>
<circle cx="555.6" cy="347.608" r="1.9" fill="#fff" stroke="#231f20" stroke-width="0.8"/>
<circle cx="550.8000000000001" cy="350.56" r="1.9" fill="#fff" stroke="#231f20" stroke-width="0.8"/>
<rect x="569.5" y="354.5" width="17.0" height="31.0" fill="#7f7f7f" stroke="#231f20" stroke-width="0.8"/>
<line x1="577.5" y1="346.624" x2="577.5" y2="362.368" stroke="#231f20" stroke-width="0.8"/>
<line x1="573.3" y1="346.5" x2="581.7" y2="346.5" stroke="#231f20" stroke-width="0.8"/>
<line x1="573.3" y1="362.5" x2="581.7" y2="362.5" stroke="#231f20" stroke-width="0.8"/>
<circle cx="575.1" cy="343.18" r="1.9" fill="#fff" stroke="#231f20" stroke-width="0.8"/>
<circle cx="580.0" cy="345.64" r="1.9" fill="#fff" stroke="#231f20" stroke-width="0.8"/>
<circle cx="580.0" cy="348.1" r="1.9" fill="#fff" stroke="#231f20" stroke-width="0.8"/>
<circle cx="575.1" cy="353.512" r="1.9" fill="#fff" stroke="#231f20" stroke-width="0.8"/>
<circle cx="578.2" cy="362.368" r="1.9" fill="#fff" stroke="#231f20" stroke-width="0.8"/>
<circle cx="577.5" cy="368.764" r="1.9" fill="#fff" stroke="#231f20" stroke-width="0.8"/>
<path d="M552.5,306.5 L552.5,299.5 L578.5,299.5 L578.5,326.0" stroke="#444" stroke-width="0.9" fill="none"/>
<path d="M563.20,294.40 L567.60,294.40 M564.30,292.49 L566.50,296.31 M566.50,292.49 L564.30,296.31 " stroke="#333" stroke-width="1.0" fill="none"/>
<text x="0" y="0" font-size="8.7" text-anchor="middle" stroke="#231f20" stroke-width="0.22" transform="translate(515.2,346.6) rotate(-90)">Cyt c / TPI (A.U.)</text>
<text x="518" y="395.9" stroke="#231f20" stroke-width="0.22">DOX:</text>
<text x="552.4" y="395.9" text-anchor="middle" stroke="#231f20" stroke-width="0.22">+</text>
<text x="578.2" y="395.9" text-anchor="middle" stroke="#231f20" stroke-width="0.22">-</text>
<line x1="544.4" y1="398.5" x2="587.5" y2="398.5" stroke="#6a6a6a" stroke-width="1.2"/>
<text x="565.6" y="408.6" text-anchor="middle" stroke="#231f20" stroke-width="0.22">C152A-Tg</text>
<text x="638.3" y="215.8" font-size="14" fill="#000" font-weight="bold">H</text>
<rect x="656.5" y="207.5" width="69.0" height="12.0" fill="#fff" stroke="#e8303a" stroke-width="0.9"/>
<text x="690.4" y="215.9" font-size="8.67" text-anchor="middle" fill="#e0202a" stroke="#e0202a" stroke-width="0.22">Nuclear Fraction</text>
<text x="690.5" y="229.4" font-size="8.7" text-anchor="middle" stroke="#231f20" stroke-width="0.22">C152A-Tg</text>
<line x1="670.7" y1="232.5" x2="710.7" y2="232.5" stroke="#231f20" stroke-width="0.9"/>
<text x="718.7" y="234.8" font-size="8.7" stroke="#231f20" stroke-width="0.22">(kDa)</text>
<text x="646.0" y="239.6" font-size="8.7" stroke="#231f20" stroke-width="0.22">DOX:</text>
<line x1="676.1999999999999" y1="236.5" x2="681.4" y2="236.5" stroke="#1a1a1a" stroke-width="0.9"/>
<line x1="678.5" y1="234.20000000000002" x2="678.5" y2="239.4" stroke="#1a1a1a" stroke-width="0.9"/>
<line x1="701.1" y1="237.5" x2="704.3000000000001" y2="237.5" stroke="#1a1a1a" stroke-width="0.9"/>
<defs><linearGradient id="gAIF" x1="0" y1="0" x2="0" y2="1"><stop offset="0" stop-color="#dcdcdc"/><stop offset="1" stop-color="#ececec"/></linearGradient>
<linearGradient id="gH2B" x1="0" y1="0" x2="0" y2="1"><stop offset="0" stop-color="#9e9e9e"/><stop offset="0.5" stop-color="#acacac"/><stop offset="1" stop-color="#bcbcbc"/></linearGradient></defs>
<rect x="665.2" y="241.3" width="50.6" height="20.4" fill="url(#gAIF)"/>
<rect x="668.6" y="250.4" width="18.799999999999955" height="3.8" rx="1.9" fill="#111" filter="url(#bl2)"/>
<path d="M669.4,253.2 Q678.0,257.4 686.6,253.2" stroke="#3a3a3a" stroke-width="2.6" fill="none" filter="url(#bl2)"/>
<rect x="694.2" y="250.4" width="17.399999999999977" height="3.8" rx="1.9" fill="#111" filter="url(#bl2)"/>
<path d="M695.0,253.2 Q702.9000000000001,257.4 710.8000000000001,253.2" stroke="#3a3a3a" stroke-width="2.6" fill="none" filter="url(#bl2)"/>
<rect x="665.2" y="264.0" width="50.6" height="20.7" fill="url(#gH2B)"/>
<rect x="668.1" y="274.05" width="18.199999999999932" height="2.3" rx="1.15" fill="#222" filter="url(#bl2)"/>
<rect x="694.2" y="274.09999999999997" width="17.399999999999977" height="2.6" rx="1.3" fill="#1e1e1e" filter="url(#bl2)"/>
<text x="647.7" y="256.1" font-size="8.7" stroke="#231f20" stroke-width="0.22">AIF</text>
<text x="646.0" y="277.9" font-size="8.7" stroke="#231f20" stroke-width="0.22">H2B</text>
<line x1="716.3" y1="242.5" x2="719.0" y2="242.5" stroke="#231f20" stroke-width="0.9"/>
<text x="720.9" y="245.6" font-size="8.7" stroke="#231f20" stroke-width="0.22">75</text>
<line x1="716.3" y1="274.5" x2="719.0" y2="274.5" stroke="#231f20" stroke-width="0.9"/>
<text x="720.9" y="278.0" font-size="8.7" stroke="#231f20" stroke-width="0.22">15</text>
<line x1="668.5" y1="311.7" x2="668.5" y2="385.5" stroke="#231f20" stroke-width="0.9"/>
<line x1="668.5" y1="385.5" x2="719.5" y2="385.5" stroke="#231f20" stroke-width="0.9"/>
<line x1="665.0" y1="385.5" x2="668.5" y2="385.5" stroke="#231f20" stroke-width="0.9"/>
<text x="664.2" y="388.6" text-anchor="end" stroke="#231f20" stroke-width="0.22">0</text>
<line x1="665.0" y1="360.5" x2="668.5" y2="360.5" stroke="#231f20" stroke-width="0.9"/>
<text x="664.2" y="364.0" text-anchor="end" stroke="#231f20" stroke-width="0.22">0.5</text>
<line x1="665.0" y1="336.5" x2="668.5" y2="336.5" stroke="#231f20" stroke-width="0.9"/>
<text x="664.2" y="339.40000000000003" text-anchor="end" stroke="#231f20" stroke-width="0.22">1.0</text>
<line x1="665.0" y1="311.5" x2="668.5" y2="311.5" stroke="#231f20" stroke-width="0.9"/>
<text x="664.2" y="314.8" text-anchor="end" stroke="#231f20" stroke-width="0.22">1.5</text>
<rect x="673.5" y="336.5" width="17.0" height="49.0" fill="#fff" stroke="#231f20" stroke-width="0.8"/>
<line x1="681.5" y1="332.856" x2="681.5" y2="340.728" stroke="#231f20" stroke-width="0.8"/>
<line x1="677.75" y1="332.5" x2="686.1500000000001" y2="332.5" stroke="#231f20" stroke-width="0.8"/>
<line x1="677.75" y1="340.5" x2="686.1500000000001" y2="340.5" stroke="#231f20" stroke-width="0.8"/>
<circle cx="679.35" cy="333.84" r="1.9" fill="#fff" stroke="#231f20" stroke-width="0.8"/>
<circle cx="683.0500000000001" cy="332.856" r="1.9" fill="#fff" stroke="#231f20" stroke-width="0.8"/>
<circle cx="686.5500000000001" cy="334.824" r="1.9" fill="#fff" stroke="#231f20" stroke-width="0.8"/>
<circle cx="679.35" cy="339.252" r="1.9" fill="#fff" stroke="#231f20" stroke-width="0.8"/>
<circle cx="683.75" cy="338.76" r="1.9" fill="#fff" stroke="#231f20" stroke-width="0.8"/>
<rect x="698.5" y="356.5" width="17.0" height="29.0" fill="#7f7f7f" stroke="#231f20" stroke-width="0.8"/>
<line x1="706.5" y1="350.568" x2="706.5" y2="361.884" stroke="#231f20" stroke-width="0.8"/>
<line x1="702.3499999999999" y1="350.5" x2="710.75" y2="350.5" stroke="#231f20" stroke-width="0.8"/>
<line x1="702.3499999999999" y1="361.5" x2="710.75" y2="361.5" stroke="#231f20" stroke-width="0.8"/>
<circle cx="703.55" cy="351.06" r="1.9" fill="#fff" stroke="#231f20" stroke-width="0.8"/>
<circle cx="707.9499999999999" cy="353.52" r="1.9" fill="#fff" stroke="#231f20" stroke-width="0.8"/>
<circle cx="704.25" cy="359.916" r="1.9" fill="#fff" stroke="#231f20" stroke-width="0.8"/>
<circle cx="707.9499999999999" cy="359.424" r="1.9" fill="#fff" stroke="#231f20" stroke-width="0.8"/>
<path d="M681.5,323.0 L681.5,315.5 L707.5,315.5 L707.5,341.6" stroke="#444" stroke-width="0.9" fill="none"/>
<path d="M692.50,310.50 L696.90,310.50 M693.60,308.59 L695.80,312.41 M695.80,308.59 L693.60,312.41 " stroke="#333" stroke-width="1.0" fill="none"/>
<text x="0" y="0" font-size="8.7" text-anchor="middle" stroke="#231f20" stroke-width="0.22" transform="translate(648.3,349) rotate(-90)">AIF / H2B (A.U.)</text>
<text x="646.8" y="395.9" stroke="#231f20" stroke-width="0.22">DOX:</text>
<text x="681.2" y="395.9" text-anchor="middle" stroke="#231f20" stroke-width="0.22">+</text>
<text x="707.0" y="395.9" text-anchor="middle" stroke="#231f20" stroke-width="0.22">-</text>
<line x1="673.2" y1="398.5" x2="716.5" y2="398.5" stroke="#6a6a6a" stroke-width="1.2"/>
<text x="694.7" y="408.6" text-anchor="middle" stroke="#231f20" stroke-width="0.22">C152A-Tg</text>
</svg></body></html>
